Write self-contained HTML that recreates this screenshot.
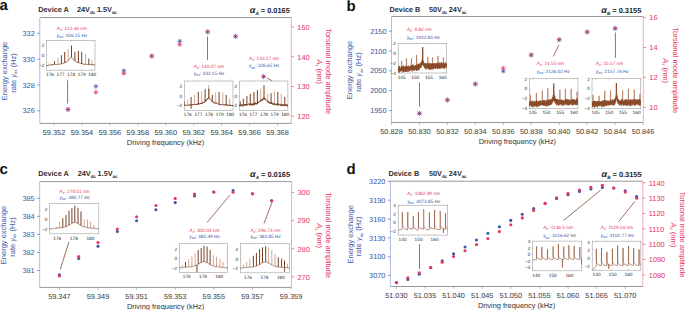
<!DOCTYPE html>
<html><head><meta charset="utf-8"><style>
html,body{margin:0;padding:0;background:#fff;width:685px;height:310px;overflow:hidden}
svg text{font-family:"Liberation Sans",sans-serif;text-rendering:geometricPrecision}
</style></head><body>
<svg width="685" height="310" viewBox="0 0 685 310" style="display:block">
<rect width="685" height="310" fill="#fff"/>
<text x="-0.60" y="10.30" font-size="15" fill="#111" text-anchor="start" font-weight="bold" >a</text>
<text x="38.30" y="12.30" font-size="7.3" fill="#2e2e2e" text-anchor="start" font-weight="bold" >Device A</text>
<text x="77.00" y="12.30" font-size="7.3" fill="#2e2e2e" font-weight="bold">24V<tspan font-size="4.6" dy="1.7" letter-spacing="-0.25">dc</tspan><tspan dy="-1.7"> 1.5V</tspan><tspan font-size="4.6" dy="1.7" letter-spacing="-0.25">ac</tspan></text>
<text x="289.80" y="13.00" font-size="7.4" fill="#222" font-weight="bold" text-anchor="end"><tspan font-size="9" font-style="italic">α</tspan><tspan font-size="4.6" dy="1.6" font-style="italic">A</tspan><tspan dy="-1.6"> = 0.0165</tspan></text>
<line x1="39.80" y1="17.50" x2="291.30" y2="17.50" stroke="#8c8c8c" stroke-width="0.9" />
<line x1="39.80" y1="123.40" x2="291.30" y2="123.40" stroke="#8c8c8c" stroke-width="0.9" />
<line x1="39.80" y1="17.50" x2="39.80" y2="123.40" stroke="#a9b6dc" stroke-width="0.9" />
<line x1="291.30" y1="17.50" x2="291.30" y2="123.40" stroke="#eea6ba" stroke-width="0.9" />
<line x1="54.00" y1="123.40" x2="54.00" y2="125.70" stroke="#8c8c8c" stroke-width="0.6" />
<text x="54.00" y="135.00" font-size="7.35" fill="#3a3a3a" text-anchor="middle" font-weight="normal" >59.352</text>
<line x1="81.94" y1="123.40" x2="81.94" y2="125.70" stroke="#8c8c8c" stroke-width="0.6" />
<text x="81.94" y="135.00" font-size="7.35" fill="#3a3a3a" text-anchor="middle" font-weight="normal" >59.354</text>
<line x1="109.87" y1="123.40" x2="109.87" y2="125.70" stroke="#8c8c8c" stroke-width="0.6" />
<text x="109.87" y="135.00" font-size="7.35" fill="#3a3a3a" text-anchor="middle" font-weight="normal" >59.356</text>
<line x1="137.81" y1="123.40" x2="137.81" y2="125.70" stroke="#8c8c8c" stroke-width="0.6" />
<text x="137.81" y="135.00" font-size="7.35" fill="#3a3a3a" text-anchor="middle" font-weight="normal" >59.358</text>
<line x1="165.75" y1="123.40" x2="165.75" y2="125.70" stroke="#8c8c8c" stroke-width="0.6" />
<text x="165.75" y="135.00" font-size="7.35" fill="#3a3a3a" text-anchor="middle" font-weight="normal" >59.360</text>
<line x1="193.69" y1="123.40" x2="193.69" y2="125.70" stroke="#8c8c8c" stroke-width="0.6" />
<text x="193.69" y="135.00" font-size="7.35" fill="#3a3a3a" text-anchor="middle" font-weight="normal" >59.362</text>
<line x1="221.63" y1="123.40" x2="221.63" y2="125.70" stroke="#8c8c8c" stroke-width="0.6" />
<text x="221.63" y="135.00" font-size="7.35" fill="#3a3a3a" text-anchor="middle" font-weight="normal" >59.364</text>
<line x1="249.56" y1="123.40" x2="249.56" y2="125.70" stroke="#8c8c8c" stroke-width="0.6" />
<text x="249.56" y="135.00" font-size="7.35" fill="#3a3a3a" text-anchor="middle" font-weight="normal" >59.366</text>
<line x1="277.50" y1="123.40" x2="277.50" y2="125.70" stroke="#8c8c8c" stroke-width="0.6" />
<text x="277.50" y="135.00" font-size="7.35" fill="#3a3a3a" text-anchor="middle" font-weight="normal" >59.368</text>
<line x1="37.20" y1="110.80" x2="39.80" y2="110.80" stroke="#3b58a8" stroke-width="0.6" />
<text x="34.80" y="113.40" font-size="7.35" fill="#3b58a8" text-anchor="end" font-weight="normal" >326</text>
<line x1="37.20" y1="84.96" x2="39.80" y2="84.96" stroke="#3b58a8" stroke-width="0.6" />
<text x="34.80" y="87.56" font-size="7.35" fill="#3b58a8" text-anchor="end" font-weight="normal" >328</text>
<line x1="37.20" y1="59.12" x2="39.80" y2="59.12" stroke="#3b58a8" stroke-width="0.6" />
<text x="34.80" y="61.72" font-size="7.35" fill="#3b58a8" text-anchor="end" font-weight="normal" >330</text>
<line x1="37.20" y1="33.28" x2="39.80" y2="33.28" stroke="#3b58a8" stroke-width="0.6" />
<text x="34.80" y="35.88" font-size="7.35" fill="#3b58a8" text-anchor="end" font-weight="normal" >332</text>
<line x1="291.30" y1="116.20" x2="293.90" y2="116.20" stroke="#e63462" stroke-width="0.6" />
<text x="297.30" y="119.10" font-size="7.35" fill="#e63462" text-anchor="start" font-weight="normal" >120</text>
<line x1="291.30" y1="86.47" x2="293.90" y2="86.47" stroke="#e63462" stroke-width="0.6" />
<text x="297.30" y="89.37" font-size="7.35" fill="#e63462" text-anchor="start" font-weight="normal" >130</text>
<line x1="291.30" y1="56.74" x2="293.90" y2="56.74" stroke="#e63462" stroke-width="0.6" />
<text x="297.30" y="59.64" font-size="7.35" fill="#e63462" text-anchor="start" font-weight="normal" >140</text>
<line x1="291.30" y1="27.01" x2="293.90" y2="27.01" stroke="#e63462" stroke-width="0.6" />
<text x="297.30" y="29.91" font-size="7.35" fill="#e63462" text-anchor="start" font-weight="normal" >150</text>
<text x="165.55" y="145.10" font-size="7.42" fill="#333" text-anchor="middle" font-weight="normal" >Driving frequency (kHz)</text>
<text transform="translate(7.20,70.95) rotate(-90)" font-size="7.5" fill="#3b58a8" text-anchor="middle">Energy exchange</text>
<text transform="translate(15.70,72.95) rotate(-90)" font-size="7.5" fill="#3b58a8" text-anchor="middle">rate <tspan font-style="italic">γ</tspan><tspan font-size="4.3" dy="1.2">ex</tspan><tspan dy="-1.2"> (Hz)</tspan></text>
<text transform="translate(326.40,71.15) rotate(90)" font-size="7.55" fill="#e63462" text-anchor="middle">Torsional mode amplitude</text>
<text transform="translate(317.00,71.55) rotate(90)" font-size="7.55" fill="#e63462" text-anchor="middle"><tspan font-style="italic">A</tspan><tspan font-size="4.3" dy="1.2">z</tspan><tspan dy="-1.2"> (nm)</tspan></text>
<rect x="46.50" y="40.40" width="48.50" height="29.80" fill="#fff" stroke="#a0a0a0" stroke-width="0.6"/>
<line x1="49.99" y1="70.20" x2="49.99" y2="69.20" stroke="#999" stroke-width="0.4" />
<line x1="49.99" y1="40.40" x2="49.99" y2="41.40" stroke="#999" stroke-width="0.4" />
<text x="49.99" y="75.90" font-size="4.75" fill="#2a2a2a" text-anchor="middle" font-weight="normal" >176</text>
<line x1="60.55" y1="70.20" x2="60.55" y2="69.20" stroke="#999" stroke-width="0.4" />
<line x1="60.55" y1="40.40" x2="60.55" y2="41.40" stroke="#999" stroke-width="0.4" />
<text x="60.55" y="75.90" font-size="4.75" fill="#2a2a2a" text-anchor="middle" font-weight="normal" >177</text>
<line x1="71.12" y1="70.20" x2="71.12" y2="69.20" stroke="#999" stroke-width="0.4" />
<line x1="71.12" y1="40.40" x2="71.12" y2="41.40" stroke="#999" stroke-width="0.4" />
<text x="71.12" y="75.90" font-size="4.75" fill="#2a2a2a" text-anchor="middle" font-weight="normal" >178</text>
<line x1="81.69" y1="70.20" x2="81.69" y2="69.20" stroke="#999" stroke-width="0.4" />
<line x1="81.69" y1="40.40" x2="81.69" y2="41.40" stroke="#999" stroke-width="0.4" />
<text x="81.69" y="75.90" font-size="4.75" fill="#2a2a2a" text-anchor="middle" font-weight="normal" >179</text>
<line x1="92.25" y1="70.20" x2="92.25" y2="69.20" stroke="#999" stroke-width="0.4" />
<line x1="92.25" y1="40.40" x2="92.25" y2="41.40" stroke="#999" stroke-width="0.4" />
<text x="92.25" y="75.90" font-size="4.75" fill="#2a2a2a" text-anchor="middle" font-weight="normal" >180</text>
<line x1="46.50" y1="45.61" x2="47.50" y2="45.61" stroke="#999" stroke-width="0.4" />
<line x1="95.00" y1="45.61" x2="94.00" y2="45.61" stroke="#999" stroke-width="0.4" />
<text x="44.30" y="47.26" font-size="4.75" fill="#2a2a2a" text-anchor="end" font-weight="normal" >2</text>
<line x1="46.50" y1="55.45" x2="47.50" y2="55.45" stroke="#999" stroke-width="0.4" />
<line x1="95.00" y1="55.45" x2="94.00" y2="55.45" stroke="#999" stroke-width="0.4" />
<text x="44.30" y="57.10" font-size="4.75" fill="#2a2a2a" text-anchor="end" font-weight="normal" >0</text>
<line x1="46.50" y1="65.28" x2="47.50" y2="65.28" stroke="#999" stroke-width="0.4" />
<line x1="95.00" y1="65.28" x2="94.00" y2="65.28" stroke="#999" stroke-width="0.4" />
<text x="44.30" y="66.93" font-size="4.75" fill="#2a2a2a" text-anchor="end" font-weight="normal" >−2</text>
<svg x="46.50" y="40.40" width="48.50" height="29.80" viewBox="46.50 40.40 48.50 29.80" overflow="hidden">
<path d="M57.9 64.3 57.9 57.9" stroke="#c69278" stroke-width="0.8" fill="none" stroke-linejoin="round"/>
<path d="M68.2 60.7 68.2 49.3" stroke="#c69278" stroke-width="0.8" fill="none" stroke-linejoin="round"/>
<path d="M85.5 64.3 85.5 54.0" stroke="#c69278" stroke-width="0.8" fill="none" stroke-linejoin="round"/>
<path d="M92.0 64.9 92.0 60.4" stroke="#c69278" stroke-width="0.8" fill="none" stroke-linejoin="round"/>
<path d="M44.7 65.5 44.9 65.0 45.1 65.1 45.4 65.5 45.6 65.3 45.8 65.3 46.0 65.2 46.2 65.1 46.4 65.5 46.6 65.6 46.9 65.0 47.1 65.3 47.3 65.0 47.5 65.5 47.7 65.2 47.9 65.0 48.2 65.3 48.4 64.8 48.6 64.8 48.8 65.4 49.0 65.4 49.2 65.0 49.4 64.7 49.7 65.1 49.9 65.2 50.1 65.0 50.3 65.2 50.5 65.1 50.7 64.9 51.0 64.9 51.2 65.0 51.4 65.0 51.6 65.0 51.8 64.8 52.0 64.9 52.3 65.1 52.5 64.5 52.7 64.7 52.9 64.6 53.1 64.9 53.3 64.3 53.5 64.4 53.8 64.9 54.0 64.7 54.2 64.4 54.4 64.4 54.6 64.2 54.8 64.6 55.1 64.3 55.3 64.4 55.5 64.6 55.7 64.4 55.9 64.2 56.1 64.2 56.4 64.4 56.6 64.3 56.8 64.7 57.0 64.5 57.2 64.1 57.4 64.4 57.6 64.5 57.9 64.2 58.1 64.1 58.3 64.1 58.5 64.3 58.7 64.2 58.9 64.2 59.2 64.0 59.4 64.1 59.6 64.2 59.8 64.1 60.0 64.4 60.2 64.4 60.5 63.9 60.7 63.7 60.9 63.9 61.1 64.0 61.3 64.1 61.5 63.8 61.7 63.4 62.0 63.5 62.2 63.6 62.4 63.3 62.6 63.6 62.8 63.3 63.0 63.0 63.3 63.2 63.5 63.2 63.7 63.2 63.9 63.0 64.1 62.6 64.3 63.2 64.6 62.6 64.8 62.5 65.0 62.4 65.2 62.4 65.4 62.3 65.6 62.4 65.8 62.3 66.1 62.3 66.3 62.5 66.5 61.8 66.7 62.0 66.9 62.1 67.1 61.7 67.4 61.5 67.6 61.3 67.8 61.1 68.0 60.8 68.2 60.5 68.4 60.3 68.6 60.2 68.9 60.3 69.1 60.0 69.3 59.8 69.5 59.3 69.7 58.9 69.9 58.7 70.2 58.5 70.4 58.3 70.6 58.5 70.8 57.9 71.0 57.8 71.2 58.0 71.5 57.8 71.7 57.9 71.9 57.6 72.1 58.1 72.3 58.4 72.5 58.3 72.7 58.7 73.0 59.1 73.2 59.2 73.4 59.2 73.6 59.6 73.8 59.8 74.0 59.7 74.3 60.1 74.5 60.4 74.7 60.5 74.9 61.0 75.1 60.9 75.3 61.1 75.6 61.5 75.8 61.8 76.0 61.4 76.2 61.9 76.4 62.2 76.6 62.0 76.8 62.0 77.1 62.6 77.3 62.7 77.5 62.7 77.7 62.3 77.9 62.8 78.1 62.5 78.4 62.6 78.6 62.7 78.8 63.0 79.0 62.6 79.2 62.8 79.4 63.1 79.7 63.3 79.9 63.1 80.1 63.4 80.3 63.3 80.5 63.6 80.7 63.4 80.9 63.9 81.2 63.8 81.4 63.4 81.6 63.6 81.8 64.0 82.0 63.7 82.2 64.1 82.5 63.7 82.7 63.9 82.9 64.1 83.1 64.2 83.3 64.4 83.5 63.9 83.8 64.5 84.0 63.9 84.2 63.9 84.4 64.1 84.6 64.4 84.8 64.0 85.0 63.9 85.3 64.1 85.5 64.3 85.7 64.4 85.9 64.4 86.1 64.5 86.3 64.2 86.6 64.4 86.8 64.6 87.0 64.7 87.2 64.3 87.4 64.6 87.6 64.5 87.9 64.6 88.1 64.3 88.3 64.3 88.5 64.9 88.7 64.8 88.9 64.7 89.1 64.3 89.4 64.4 89.6 64.8 89.8 64.9 90.0 64.6 90.2 64.5 90.4 64.4 90.7 64.8 90.9 64.5 91.1 64.6 91.3 64.8 91.5 64.5 91.7 65.0 91.9 64.7 92.2 65.2 92.4 65.1 92.6 64.6 92.8 65.1 93.0 64.8 93.2 64.9 93.5 64.7 93.7 65.1 93.9 65.1 94.1 65.2 94.3 64.8 94.5 65.0 94.8 64.8 95.0 64.8 95.2 65.4 95.4 65.1 95.6 65.4 95.8 65.5 96.0 65.5 96.3 65.0 96.5 65.0" stroke="#6e3416" stroke-width="0.55" fill="none" stroke-linejoin="round"/>
<path d="M51.5 64.8 51.5 64.1" stroke="#6e3416" stroke-width="0.95" fill="none" stroke-linejoin="round"/>
<path d="M54.5 64.6 54.5 61.1" stroke="#6e3416" stroke-width="0.95" fill="none" stroke-linejoin="round"/>
<path d="M61.4 63.8 61.4 55.2" stroke="#6e3416" stroke-width="0.95" fill="none" stroke-linejoin="round"/>
<path d="M64.7 62.7 64.7 52.0" stroke="#6e3416" stroke-width="0.95" fill="none" stroke-linejoin="round"/>
<path d="M71.5 57.4 71.5 45.6" stroke="#6e3416" stroke-width="0.95" fill="none" stroke-linejoin="round"/>
<path d="M74.9 60.7 74.9 52.0" stroke="#6e3416" stroke-width="0.95" fill="none" stroke-linejoin="round"/>
<path d="M78.4 62.7 78.4 51.0" stroke="#6e3416" stroke-width="0.95" fill="none" stroke-linejoin="round"/>
<path d="M81.7 63.8 81.7 51.8" stroke="#6e3416" stroke-width="0.95" fill="none" stroke-linejoin="round"/>
<path d="M88.8 64.6 88.8 58.6" stroke="#6e3416" stroke-width="0.95" fill="none" stroke-linejoin="round"/>
</svg>
<rect x="184.30" y="81.00" width="48.70" height="29.50" fill="#fff" stroke="#a0a0a0" stroke-width="0.6"/>
<line x1="187.80" y1="110.50" x2="187.80" y2="109.50" stroke="#999" stroke-width="0.4" />
<line x1="187.80" y1="81.00" x2="187.80" y2="82.00" stroke="#999" stroke-width="0.4" />
<text x="187.80" y="116.20" font-size="4.75" fill="#2a2a2a" text-anchor="middle" font-weight="normal" >176</text>
<line x1="198.41" y1="110.50" x2="198.41" y2="109.50" stroke="#999" stroke-width="0.4" />
<line x1="198.41" y1="81.00" x2="198.41" y2="82.00" stroke="#999" stroke-width="0.4" />
<text x="198.41" y="116.20" font-size="4.75" fill="#2a2a2a" text-anchor="middle" font-weight="normal" >177</text>
<line x1="209.02" y1="110.50" x2="209.02" y2="109.50" stroke="#999" stroke-width="0.4" />
<line x1="209.02" y1="81.00" x2="209.02" y2="82.00" stroke="#999" stroke-width="0.4" />
<text x="209.02" y="116.20" font-size="4.75" fill="#2a2a2a" text-anchor="middle" font-weight="normal" >178</text>
<line x1="219.63" y1="110.50" x2="219.63" y2="109.50" stroke="#999" stroke-width="0.4" />
<line x1="219.63" y1="81.00" x2="219.63" y2="82.00" stroke="#999" stroke-width="0.4" />
<text x="219.63" y="116.20" font-size="4.75" fill="#2a2a2a" text-anchor="middle" font-weight="normal" >179</text>
<line x1="230.24" y1="110.50" x2="230.24" y2="109.50" stroke="#999" stroke-width="0.4" />
<line x1="230.24" y1="81.00" x2="230.24" y2="82.00" stroke="#999" stroke-width="0.4" />
<text x="230.24" y="116.20" font-size="4.75" fill="#2a2a2a" text-anchor="middle" font-weight="normal" >180</text>
<line x1="184.30" y1="86.16" x2="185.30" y2="86.16" stroke="#999" stroke-width="0.4" />
<line x1="233.00" y1="86.16" x2="232.00" y2="86.16" stroke="#999" stroke-width="0.4" />
<text x="182.10" y="87.81" font-size="4.75" fill="#2a2a2a" text-anchor="end" font-weight="normal" >2</text>
<line x1="184.30" y1="95.90" x2="185.30" y2="95.90" stroke="#999" stroke-width="0.4" />
<line x1="233.00" y1="95.90" x2="232.00" y2="95.90" stroke="#999" stroke-width="0.4" />
<text x="182.10" y="97.55" font-size="4.75" fill="#2a2a2a" text-anchor="end" font-weight="normal" >0</text>
<line x1="184.30" y1="105.63" x2="185.30" y2="105.63" stroke="#999" stroke-width="0.4" />
<line x1="233.00" y1="105.63" x2="232.00" y2="105.63" stroke="#999" stroke-width="0.4" />
<text x="182.10" y="107.28" font-size="4.75" fill="#2a2a2a" text-anchor="end" font-weight="normal" >−2</text>
<svg x="184.30" y="81.00" width="48.70" height="29.50" viewBox="184.30 81.00 48.70 29.50" overflow="hidden">
<path d="M187.7 105.2 187.7 99.5" stroke="#c69278" stroke-width="0.8" fill="none" stroke-linejoin="round"/>
<path d="M194.6 104.7 194.6 94.9" stroke="#c69278" stroke-width="0.8" fill="none" stroke-linejoin="round"/>
<path d="M201.7 103.1 201.7 91.0" stroke="#c69278" stroke-width="0.8" fill="none" stroke-linejoin="round"/>
<path d="M208.7 97.8 208.7 85.2" stroke="#c69278" stroke-width="0.8" fill="none" stroke-linejoin="round"/>
<path d="M215.7 103.1 215.7 92.0" stroke="#c69278" stroke-width="0.8" fill="none" stroke-linejoin="round"/>
<path d="M222.8 104.7 222.8 92.5" stroke="#c69278" stroke-width="0.8" fill="none" stroke-linejoin="round"/>
<path d="M229.6 105.2 229.6 98.3" stroke="#c69278" stroke-width="0.8" fill="none" stroke-linejoin="round"/>
<path d="M182.5 105.0 182.7 105.0 182.9 106.3 183.1 106.2 183.4 105.1 183.6 105.3 183.8 105.3 184.0 105.8 184.2 105.4 184.4 105.4 184.7 105.4 184.9 106.0 185.1 105.6 185.3 105.6 185.5 105.1 185.7 104.7 186.0 104.7 186.2 105.3 186.4 105.4 186.6 105.7 186.8 106.0 187.0 106.0 187.3 105.3 187.5 105.5 187.7 105.4 187.9 104.7 188.1 105.2 188.3 105.1 188.6 105.6 188.8 105.9 189.0 105.4 189.2 105.6 189.4 105.1 189.6 104.4 189.9 104.8 190.1 105.5 190.3 104.5 190.5 104.6 190.7 104.6 190.9 104.4 191.2 104.6 191.4 104.5 191.6 105.1 191.8 104.2 192.0 104.2 192.2 105.4 192.5 104.5 192.7 104.5 192.9 104.9 193.1 104.7 193.3 104.8 193.5 104.1 193.8 104.7 194.0 104.2 194.2 104.9 194.4 104.1 194.6 104.1 194.8 104.7 195.1 104.5 195.3 104.0 195.5 104.3 195.7 104.6 195.9 104.9 196.1 104.8 196.4 104.2 196.6 105.0 196.8 103.9 197.0 104.8 197.2 103.8 197.4 104.7 197.7 103.7 197.9 104.1 198.1 104.3 198.3 104.3 198.5 104.0 198.7 104.0 199.0 104.3 199.2 104.4 199.4 103.9 199.6 103.2 199.8 103.6 200.0 104.3 200.3 103.2 200.5 103.2 200.7 102.9 200.9 103.9 201.1 103.0 201.3 103.9 201.6 103.0 201.8 103.4 202.0 103.4 202.2 102.4 202.4 103.5 202.6 102.8 202.9 102.2 203.1 103.0 203.3 103.0 203.5 102.0 203.7 102.6 203.9 102.1 204.2 102.8 204.4 102.2 204.6 102.2 204.8 101.3 205.0 101.9 205.2 100.5 205.5 101.6 205.7 100.4 205.9 101.2 206.1 100.7 206.3 99.6 206.5 100.4 206.8 100.2 207.0 99.2 207.2 99.4 207.4 99.7 207.6 98.2 207.8 99.2 208.1 99.1 208.3 98.5 208.5 97.9 208.7 97.5 208.9 98.6 209.1 98.5 209.4 99.2 209.6 98.7 209.8 98.5 210.0 98.7 210.2 98.7 210.4 99.1 210.7 99.2 210.9 99.6 211.1 100.2 211.3 100.7 211.5 100.3 211.7 101.0 212.0 101.5 212.2 101.2 212.4 100.8 212.6 102.1 212.8 101.6 213.0 102.1 213.3 102.1 213.5 102.9 213.7 101.8 213.9 102.9 214.1 102.4 214.3 102.8 214.6 103.4 214.8 102.7 215.0 103.4 215.2 103.6 215.4 103.7 215.6 103.6 215.9 103.8 216.1 103.1 216.3 103.3 216.5 102.7 216.7 102.8 216.9 102.8 217.2 104.0 217.4 103.8 217.6 104.1 217.8 103.7 218.0 103.7 218.2 103.6 218.5 103.8 218.7 104.5 218.9 104.3 219.1 104.2 219.3 105.1 219.5 105.1 219.8 104.5 220.0 105.0 220.2 104.1 220.4 104.8 220.6 105.1 220.8 105.0 221.1 104.9 221.3 104.9 221.5 104.5 221.7 104.6 221.9 104.9 222.1 104.4 222.4 105.0 222.6 104.0 222.8 104.0 223.0 104.3 223.2 104.8 223.4 104.7 223.7 104.6 223.9 105.4 224.1 104.9 224.3 104.7 224.5 105.3 224.7 105.4 225.0 104.4 225.2 105.1 225.4 104.8 225.6 104.3 225.8 104.8 226.0 105.2 226.3 104.2 226.5 105.2 226.7 105.7 226.9 104.7 227.1 105.6 227.3 105.3 227.6 104.6 227.8 104.8 228.0 105.8 228.2 105.2 228.4 105.3 228.6 105.2 228.9 105.6 229.1 105.1 229.3 105.8 229.5 105.5 229.7 105.4 229.9 104.6 230.2 105.9 230.4 104.9 230.6 105.8 230.8 105.2 231.0 105.5 231.2 105.4 231.5 105.0 231.7 105.6 231.9 106.0 232.1 106.0 232.3 106.1 232.5 105.0 232.8 105.3 233.0 104.9 233.2 105.3 233.4 106.3 233.6 105.4 233.8 105.2 234.1 105.3 234.3 105.6 234.5 105.8" stroke="#6e3416" stroke-width="0.6" fill="none" stroke-linejoin="round"/>
<path d="M184.3 105.5 184.3 101.5" stroke="#6e3416" stroke-width="0.95" fill="none" stroke-linejoin="round"/>
<path d="M191.1 105.0 191.1 96.9" stroke="#6e3416" stroke-width="0.95" fill="none" stroke-linejoin="round"/>
<path d="M198.3 104.3 198.3 92.0" stroke="#6e3416" stroke-width="0.95" fill="none" stroke-linejoin="round"/>
<path d="M205.1 101.3 205.1 88.8" stroke="#6e3416" stroke-width="0.95" fill="none" stroke-linejoin="round"/>
<path d="M208.9 98.0 208.9 88.6" stroke="#6e3416" stroke-width="0.95" fill="none" stroke-linejoin="round"/>
<path d="M212.3 101.3 212.3 94.9" stroke="#6e3416" stroke-width="0.95" fill="none" stroke-linejoin="round"/>
<path d="M219.1 104.3 219.1 92.0" stroke="#6e3416" stroke-width="0.95" fill="none" stroke-linejoin="round"/>
<path d="M226.2 104.9 226.2 94.9" stroke="#6e3416" stroke-width="0.95" fill="none" stroke-linejoin="round"/>
<path d="M190.9 105.0 191.1 108.6 191.4 105.0" stroke="#6e3416" stroke-width="0.55" fill="none" stroke-linejoin="round"/>
</svg>
<rect x="239.40" y="81.00" width="48.50" height="29.50" fill="#fff" stroke="#a0a0a0" stroke-width="0.6"/>
<line x1="242.89" y1="110.50" x2="242.89" y2="109.50" stroke="#999" stroke-width="0.4" />
<line x1="242.89" y1="81.00" x2="242.89" y2="82.00" stroke="#999" stroke-width="0.4" />
<text x="242.89" y="116.20" font-size="4.75" fill="#2a2a2a" text-anchor="middle" font-weight="normal" >176</text>
<line x1="253.45" y1="110.50" x2="253.45" y2="109.50" stroke="#999" stroke-width="0.4" />
<line x1="253.45" y1="81.00" x2="253.45" y2="82.00" stroke="#999" stroke-width="0.4" />
<text x="253.45" y="116.20" font-size="4.75" fill="#2a2a2a" text-anchor="middle" font-weight="normal" >177</text>
<line x1="264.02" y1="110.50" x2="264.02" y2="109.50" stroke="#999" stroke-width="0.4" />
<line x1="264.02" y1="81.00" x2="264.02" y2="82.00" stroke="#999" stroke-width="0.4" />
<text x="264.02" y="116.20" font-size="4.75" fill="#2a2a2a" text-anchor="middle" font-weight="normal" >178</text>
<line x1="274.59" y1="110.50" x2="274.59" y2="109.50" stroke="#999" stroke-width="0.4" />
<line x1="274.59" y1="81.00" x2="274.59" y2="82.00" stroke="#999" stroke-width="0.4" />
<text x="274.59" y="116.20" font-size="4.75" fill="#2a2a2a" text-anchor="middle" font-weight="normal" >179</text>
<line x1="285.15" y1="110.50" x2="285.15" y2="109.50" stroke="#999" stroke-width="0.4" />
<line x1="285.15" y1="81.00" x2="285.15" y2="82.00" stroke="#999" stroke-width="0.4" />
<text x="285.15" y="116.20" font-size="4.75" fill="#2a2a2a" text-anchor="middle" font-weight="normal" >180</text>
<line x1="239.40" y1="86.16" x2="240.40" y2="86.16" stroke="#999" stroke-width="0.4" />
<line x1="287.90" y1="86.16" x2="286.90" y2="86.16" stroke="#999" stroke-width="0.4" />
<text x="237.20" y="87.81" font-size="4.75" fill="#2a2a2a" text-anchor="end" font-weight="normal" >2</text>
<line x1="239.40" y1="95.90" x2="240.40" y2="95.90" stroke="#999" stroke-width="0.4" />
<line x1="287.90" y1="95.90" x2="286.90" y2="95.90" stroke="#999" stroke-width="0.4" />
<text x="237.20" y="97.55" font-size="4.75" fill="#2a2a2a" text-anchor="end" font-weight="normal" >0</text>
<line x1="239.40" y1="105.63" x2="240.40" y2="105.63" stroke="#999" stroke-width="0.4" />
<line x1="287.90" y1="105.63" x2="286.90" y2="105.63" stroke="#999" stroke-width="0.4" />
<text x="237.20" y="107.28" font-size="4.75" fill="#2a2a2a" text-anchor="end" font-weight="normal" >−2</text>
<svg x="239.40" y="81.00" width="48.50" height="29.50" viewBox="239.40 81.00 48.50 29.50" overflow="hidden">
<path d="M260.7 101.0 260.7 88.6" stroke="#c69278" stroke-width="0.8" fill="none" stroke-linejoin="round"/>
<path d="M267.7 101.4 267.7 93.9" stroke="#c69278" stroke-width="0.8" fill="none" stroke-linejoin="round"/>
<path d="M274.4 104.3 274.4 91.3" stroke="#c69278" stroke-width="0.8" fill="none" stroke-linejoin="round"/>
<path d="M281.3 104.9 281.3 93.9" stroke="#c69278" stroke-width="0.8" fill="none" stroke-linejoin="round"/>
<path d="M237.6 106.2 237.8 105.5 238.0 105.9 238.3 105.4 238.5 105.4 238.7 106.6 238.9 106.7 239.1 104.9 239.3 106.1 239.5 106.1 239.8 104.5 240.0 105.6 240.2 104.8 240.4 105.5 240.6 105.2 240.8 106.2 241.1 105.1 241.3 104.6 241.5 105.3 241.7 104.9 241.9 105.0 242.1 106.3 242.3 104.8 242.6 105.1 242.8 105.7 243.0 106.3 243.2 104.5 243.4 105.3 243.6 104.7 243.9 104.4 244.1 104.7 244.3 104.2 244.5 105.4 244.7 104.5 244.9 105.2 245.2 104.1 245.4 104.2 245.6 105.9 245.8 105.8 246.0 105.6 246.2 104.0 246.4 105.1 246.7 104.7 246.9 105.3 247.1 104.9 247.3 105.1 247.5 105.2 247.7 104.7 248.0 104.6 248.2 103.9 248.4 104.4 248.6 103.9 248.8 104.0 249.0 103.7 249.3 104.4 249.5 105.4 249.7 103.9 249.9 103.7 250.1 103.8 250.3 104.5 250.5 104.1 250.8 105.2 251.0 103.9 251.2 104.4 251.4 105.0 251.6 105.4 251.8 103.7 252.1 103.4 252.3 105.3 252.5 103.8 252.7 104.6 252.9 105.1 253.1 104.8 253.4 103.8 253.6 103.5 253.8 105.2 254.0 103.9 254.2 105.1 254.4 103.6 254.6 104.3 254.9 103.1 255.1 102.8 255.3 103.7 255.5 102.6 255.7 104.0 255.9 104.4 256.2 103.2 256.4 104.4 256.6 103.9 256.8 103.4 257.0 102.9 257.2 103.8 257.5 104.0 257.7 102.1 257.9 103.2 258.1 101.8 258.3 101.9 258.5 102.9 258.7 102.6 259.0 102.4 259.2 102.1 259.4 102.1 259.6 101.9 259.8 101.6 260.0 100.7 260.3 101.4 260.5 101.4 260.7 100.6 260.9 101.4 261.1 101.0 261.3 99.4 261.5 100.2 261.8 99.9 262.0 100.8 262.2 99.8 262.4 99.2 262.6 100.2 262.8 98.7 263.1 98.5 263.3 99.5 263.5 98.1 263.7 98.2 263.9 97.6 264.1 98.3 264.4 97.7 264.6 97.9 264.8 99.6 265.0 99.7 265.2 98.6 265.4 98.2 265.6 99.9 265.9 99.7 266.1 99.6 266.3 100.4 266.5 100.5 266.7 100.8 266.9 100.9 267.2 100.6 267.4 101.5 267.6 101.5 267.8 100.9 268.0 102.7 268.2 101.7 268.5 101.6 268.7 102.7 268.9 103.0 269.1 101.8 269.3 103.1 269.5 103.3 269.7 102.8 270.0 102.4 270.2 103.7 270.4 103.3 270.6 103.4 270.8 102.4 271.0 103.3 271.3 102.5 271.5 104.0 271.7 103.7 271.9 103.1 272.1 102.7 272.3 103.7 272.6 104.3 272.8 104.5 273.0 103.7 273.2 104.5 273.4 103.3 273.6 103.3 273.8 104.8 274.1 104.7 274.3 103.6 274.5 104.0 274.7 103.7 274.9 104.7 275.1 105.2 275.4 104.9 275.6 103.8 275.8 104.9 276.0 104.8 276.2 104.7 276.4 104.7 276.7 104.7 276.9 103.7 277.1 105.3 277.3 105.6 277.5 103.7 277.7 103.8 277.9 103.6 278.2 104.8 278.4 103.7 278.6 103.8 278.8 105.3 279.0 104.2 279.2 104.0 279.5 104.4 279.7 104.8 279.9 105.3 280.1 105.2 280.3 105.4 280.5 105.8 280.8 104.7 281.0 105.4 281.2 104.3 281.4 105.9 281.6 104.1 281.8 104.6 282.0 104.1 282.3 104.2 282.5 104.2 282.7 104.9 282.9 106.1 283.1 104.6 283.3 105.8 283.6 105.6 283.8 104.8 284.0 105.1 284.2 105.4 284.4 104.3 284.6 105.0 284.8 105.6 285.1 105.8 285.3 104.5 285.5 105.3 285.7 104.7 285.9 105.7 286.1 106.0 286.4 105.3 286.6 104.7 286.8 106.1 287.0 104.8 287.2 104.5 287.4 104.8 287.7 104.8 287.9 106.6 288.1 105.2 288.3 104.8 288.5 106.5 288.7 106.1 288.9 106.1 289.2 105.6 289.4 105.8" stroke="#6e3416" stroke-width="0.7" fill="none" stroke-linejoin="round"/>
<path d="M240.2 105.5 240.2 101.3" stroke="#6e3416" stroke-width="0.95" fill="none" stroke-linejoin="round"/>
<path d="M243.3 105.2 243.3 98.8" stroke="#6e3416" stroke-width="0.95" fill="none" stroke-linejoin="round"/>
<path d="M246.9 104.9 246.9 96.1" stroke="#6e3416" stroke-width="0.95" fill="none" stroke-linejoin="round"/>
<path d="M250.3 104.6 250.3 93.9" stroke="#6e3416" stroke-width="0.95" fill="none" stroke-linejoin="round"/>
<path d="M254.0 104.2 254.0 92.0" stroke="#6e3416" stroke-width="0.95" fill="none" stroke-linejoin="round"/>
<path d="M257.4 103.0 257.4 90.1" stroke="#6e3416" stroke-width="0.95" fill="none" stroke-linejoin="round"/>
<path d="M264.0 97.8 264.0 85.2" stroke="#6e3416" stroke-width="0.95" fill="none" stroke-linejoin="round"/>
<path d="M271.1 103.2 271.1 93.2" stroke="#6e3416" stroke-width="0.95" fill="none" stroke-linejoin="round"/>
<path d="M277.8 104.6 277.8 92.0" stroke="#6e3416" stroke-width="0.95" fill="none" stroke-linejoin="round"/>
<path d="M284.8 105.2 284.8 96.9" stroke="#6e3416" stroke-width="0.95" fill="none" stroke-linejoin="round"/>
</svg>
<line x1="67.60" y1="80.30" x2="67.60" y2="103.50" stroke="#8a553d" stroke-width="0.85" />
<line x1="207.50" y1="36.50" x2="207.50" y2="60.00" stroke="#8a553d" stroke-width="0.85" />
<line x1="267.00" y1="78.20" x2="271.90" y2="80.60" stroke="#8a553d" stroke-width="0.85" />
<path d="M65.52 109.50H70.42M67.97 107.05V111.95M66.20 107.74L69.73 111.26M66.20 111.26L69.73 107.74" stroke="#3b58a8" stroke-width="0.7" fill="none" stroke-opacity="1"/>
<path d="M65.62 109.20H70.32M67.97 106.85V111.55M66.28 107.51L69.66 110.89M66.28 110.89L69.66 107.51" stroke="#e63462" stroke-width="0.7" fill="none" stroke-opacity="0.72"/>
<circle cx="67.97" cy="109.20" r="0.6" fill="#e63462"/>
<path d="M93.56 86.40H98.26M95.91 84.05V88.75M94.21 84.71L97.60 88.09M94.21 88.09L97.60 84.71" stroke="#3b58a8" stroke-width="0.7" fill="none" stroke-opacity="1"/>
<path d="M93.56 92.30H98.26M95.91 89.95V94.65M94.21 90.61L97.60 93.99M94.21 93.99L97.60 90.61" stroke="#e63462" stroke-width="0.7" fill="none" stroke-opacity="1"/>
<path d="M121.49 70.80H126.19M123.84 68.45V73.15M122.15 69.11L125.54 72.49M122.15 72.49L125.54 69.11" stroke="#3b58a8" stroke-width="0.7" fill="none" stroke-opacity="1"/>
<path d="M121.49 73.50H126.19M123.84 71.15V75.85M122.15 71.81L125.54 75.19M122.15 75.19L125.54 71.81" stroke="#e63462" stroke-width="0.7" fill="none" stroke-opacity="1"/>
<path d="M149.33 56.20H154.23M151.78 53.75V58.65M150.02 54.44L153.55 57.96M150.02 57.96L153.55 54.44" stroke="#3b58a8" stroke-width="0.7" fill="none" stroke-opacity="1"/>
<path d="M149.43 55.90H154.13M151.78 53.55V58.25M150.09 54.21L153.47 57.59M150.09 57.59L153.47 54.21" stroke="#e63462" stroke-width="0.7" fill="none" stroke-opacity="0.72"/>
<circle cx="151.78" cy="55.90" r="0.6" fill="#e63462"/>
<path d="M177.37 41.20H182.07M179.72 38.85V43.55M178.03 39.51L181.41 42.89M178.03 42.89L181.41 39.51" stroke="#3b58a8" stroke-width="0.7" fill="none" stroke-opacity="1"/>
<path d="M177.37 44.60H182.07M179.72 42.25V46.95M178.03 42.91L181.41 46.29M178.03 46.29L181.41 42.91" stroke="#e63462" stroke-width="0.7" fill="none" stroke-opacity="1"/>
<path d="M205.21 32.00H210.11M207.66 29.55V34.45M205.89 30.24L209.42 33.76M205.89 33.76L209.42 30.24" stroke="#3b58a8" stroke-width="0.7" fill="none" stroke-opacity="1"/>
<path d="M205.31 31.70H210.01M207.66 29.35V34.05M205.96 30.01L209.35 33.39M205.96 33.39L209.35 30.01" stroke="#e63462" stroke-width="0.7" fill="none" stroke-opacity="0.72"/>
<circle cx="207.66" cy="31.70" r="0.6" fill="#e63462"/>
<path d="M233.14 36.50H238.04M235.59 34.05V38.95M233.83 34.74L237.36 38.26M233.83 38.26L237.36 34.74" stroke="#3b58a8" stroke-width="0.7" fill="none" stroke-opacity="1"/>
<path d="M233.24 36.20H237.94M235.59 33.85V38.55M233.90 34.51L237.29 37.89M233.90 37.89L237.29 34.51" stroke="#e63462" stroke-width="0.7" fill="none" stroke-opacity="0.72"/>
<circle cx="235.59" cy="36.20" r="0.6" fill="#e63462"/>
<path d="M261.08 76.70H265.98M263.53 74.25V79.15M261.77 74.94L265.30 78.46M261.77 78.46L265.30 74.94" stroke="#3b58a8" stroke-width="0.7" fill="none" stroke-opacity="1"/>
<path d="M261.18 76.40H265.88M263.53 74.05V78.75M261.84 74.71L265.22 78.09M261.84 78.09L265.22 74.71" stroke="#e63462" stroke-width="0.7" fill="none" stroke-opacity="0.72"/>
<circle cx="263.53" cy="76.40" r="0.6" fill="#e63462"/>
<text x="56.80" y="29.50" font-size="4.75" fill="#e63462"><tspan font-style="italic">A</tspan><tspan font-size="3.6" dy="1.0">z</tspan><tspan dy="-1.0">: 122.46 nm</tspan></text>
<text x="56.80" y="36.50" font-size="4.75" fill="#3b58a8"><tspan font-style="italic">γ</tspan><tspan font-size="3.6" dy="1.2">ex</tspan><tspan dy="-1.2">: 326.15 Hz</tspan></text>
<text x="193.80" y="68.20" font-size="4.75" fill="#e63462"><tspan font-style="italic">A</tspan><tspan font-size="3.6" dy="1.0">z</tspan><tspan dy="-1.0">: 140.07 nm</tspan></text>
<text x="193.80" y="75.20" font-size="4.75" fill="#3b58a8"><tspan font-style="italic">γ</tspan><tspan font-size="3.6" dy="1.2">ex</tspan><tspan dy="-1.2">: 332.15 Hz</tspan></text>
<text x="249.00" y="60.30" font-size="4.75" fill="#e63462"><tspan font-style="italic">A</tspan><tspan font-size="3.6" dy="1.0">z</tspan><tspan dy="-1.0">: 133.17 nm</tspan></text>
<text x="249.00" y="67.30" font-size="4.75" fill="#3b58a8"><tspan font-style="italic">γ</tspan><tspan font-size="3.6" dy="1.2">ex</tspan><tspan dy="-1.2">: 326.65 Hz</tspan></text>
<text x="346.60" y="10.60" font-size="15" fill="#111" text-anchor="start" font-weight="bold" >b</text>
<text x="389.50" y="12.30" font-size="7.3" fill="#2e2e2e" text-anchor="start" font-weight="bold" >Device B</text>
<text x="428.90" y="12.30" font-size="7.3" fill="#2e2e2e" font-weight="bold">50V<tspan font-size="4.6" dy="1.7" letter-spacing="-0.25">dc</tspan><tspan dy="-1.7"> 24V</tspan><tspan font-size="4.6" dy="1.7" letter-spacing="-0.25">ac</tspan></text>
<text x="641.30" y="13.00" font-size="7.4" fill="#222" font-weight="bold" text-anchor="end"><tspan font-size="9" font-style="italic">α</tspan><tspan font-size="4.6" dy="1.6" font-style="italic">B</tspan><tspan dy="-1.6"> = 0.3155</tspan></text>
<line x1="391.50" y1="16.50" x2="643.30" y2="16.50" stroke="#8c8c8c" stroke-width="0.9" />
<line x1="391.50" y1="122.50" x2="643.30" y2="122.50" stroke="#8c8c8c" stroke-width="0.9" />
<line x1="391.50" y1="16.50" x2="391.50" y2="122.50" stroke="#a9b6dc" stroke-width="0.9" />
<line x1="643.30" y1="16.50" x2="643.30" y2="122.50" stroke="#eea6ba" stroke-width="0.9" />
<line x1="391.50" y1="122.50" x2="391.50" y2="124.80" stroke="#8c8c8c" stroke-width="0.6" />
<text x="391.50" y="134.10" font-size="7.35" fill="#3a3a3a" text-anchor="middle" font-weight="normal" >50.828</text>
<line x1="419.45" y1="122.50" x2="419.45" y2="124.80" stroke="#8c8c8c" stroke-width="0.6" />
<text x="419.45" y="134.10" font-size="7.35" fill="#3a3a3a" text-anchor="middle" font-weight="normal" >50.830</text>
<line x1="447.40" y1="122.50" x2="447.40" y2="124.80" stroke="#8c8c8c" stroke-width="0.6" />
<text x="447.40" y="134.10" font-size="7.35" fill="#3a3a3a" text-anchor="middle" font-weight="normal" >50.832</text>
<line x1="475.35" y1="122.50" x2="475.35" y2="124.80" stroke="#8c8c8c" stroke-width="0.6" />
<text x="475.35" y="134.10" font-size="7.35" fill="#3a3a3a" text-anchor="middle" font-weight="normal" >50.834</text>
<line x1="503.30" y1="122.50" x2="503.30" y2="124.80" stroke="#8c8c8c" stroke-width="0.6" />
<text x="503.30" y="134.10" font-size="7.35" fill="#3a3a3a" text-anchor="middle" font-weight="normal" >50.836</text>
<line x1="531.25" y1="122.50" x2="531.25" y2="124.80" stroke="#8c8c8c" stroke-width="0.6" />
<text x="531.25" y="134.10" font-size="7.35" fill="#3a3a3a" text-anchor="middle" font-weight="normal" >50.838</text>
<line x1="559.20" y1="122.50" x2="559.20" y2="124.80" stroke="#8c8c8c" stroke-width="0.6" />
<text x="559.20" y="134.10" font-size="7.35" fill="#3a3a3a" text-anchor="middle" font-weight="normal" >50.840</text>
<line x1="587.15" y1="122.50" x2="587.15" y2="124.80" stroke="#8c8c8c" stroke-width="0.6" />
<text x="587.15" y="134.10" font-size="7.35" fill="#3a3a3a" text-anchor="middle" font-weight="normal" >50.842</text>
<line x1="615.10" y1="122.50" x2="615.10" y2="124.80" stroke="#8c8c8c" stroke-width="0.6" />
<text x="615.10" y="134.10" font-size="7.35" fill="#3a3a3a" text-anchor="middle" font-weight="normal" >50.844</text>
<line x1="643.05" y1="122.50" x2="643.05" y2="124.80" stroke="#8c8c8c" stroke-width="0.6" />
<text x="643.05" y="134.10" font-size="7.35" fill="#3a3a3a" text-anchor="middle" font-weight="normal" >50.846</text>
<line x1="388.90" y1="110.60" x2="391.50" y2="110.60" stroke="#3b58a8" stroke-width="0.6" />
<text x="386.50" y="113.20" font-size="7.35" fill="#3b58a8" text-anchor="end" font-weight="normal" >1950</text>
<line x1="388.90" y1="90.73" x2="391.50" y2="90.73" stroke="#3b58a8" stroke-width="0.6" />
<text x="386.50" y="93.33" font-size="7.35" fill="#3b58a8" text-anchor="end" font-weight="normal" >2000</text>
<line x1="388.90" y1="70.86" x2="391.50" y2="70.86" stroke="#3b58a8" stroke-width="0.6" />
<text x="386.50" y="73.46" font-size="7.35" fill="#3b58a8" text-anchor="end" font-weight="normal" >2050</text>
<line x1="388.90" y1="50.99" x2="391.50" y2="50.99" stroke="#3b58a8" stroke-width="0.6" />
<text x="386.50" y="53.59" font-size="7.35" fill="#3b58a8" text-anchor="end" font-weight="normal" >2100</text>
<line x1="388.90" y1="31.12" x2="391.50" y2="31.12" stroke="#3b58a8" stroke-width="0.6" />
<text x="386.50" y="33.72" font-size="7.35" fill="#3b58a8" text-anchor="end" font-weight="normal" >2150</text>
<line x1="643.30" y1="107.40" x2="645.90" y2="107.40" stroke="#e63462" stroke-width="0.6" />
<text x="649.30" y="110.30" font-size="7.35" fill="#e63462" text-anchor="start" font-weight="normal" >10</text>
<line x1="643.30" y1="77.43" x2="645.90" y2="77.43" stroke="#e63462" stroke-width="0.6" />
<text x="649.30" y="80.33" font-size="7.35" fill="#e63462" text-anchor="start" font-weight="normal" >12</text>
<line x1="643.30" y1="47.46" x2="645.90" y2="47.46" stroke="#e63462" stroke-width="0.6" />
<text x="649.30" y="50.36" font-size="7.35" fill="#e63462" text-anchor="start" font-weight="normal" >14</text>
<line x1="643.30" y1="17.49" x2="645.90" y2="17.49" stroke="#e63462" stroke-width="0.6" />
<text x="649.30" y="20.39" font-size="7.35" fill="#e63462" text-anchor="start" font-weight="normal" >16</text>
<text x="517.40" y="144.20" font-size="7.42" fill="#333" text-anchor="middle" font-weight="normal" >Driving frequency (kHz)</text>
<text transform="translate(352.10,70.00) rotate(-90)" font-size="7.5" fill="#3b58a8" text-anchor="middle">Energy exchange</text>
<text transform="translate(361.40,72.00) rotate(-90)" font-size="7.5" fill="#3b58a8" text-anchor="middle">rate <tspan font-style="italic">γ</tspan><tspan font-size="4.3" dy="1.2">ex</tspan><tspan dy="-1.2"> (Hz)</tspan></text>
<text transform="translate(672.60,70.20) rotate(90)" font-size="7.55" fill="#e63462" text-anchor="middle">Torsional mode amplitude</text>
<text transform="translate(663.20,70.60) rotate(90)" font-size="7.55" fill="#e63462" text-anchor="middle"><tspan font-style="italic">A</tspan><tspan font-size="4.3" dy="1.2">z</tspan><tspan dy="-1.2"> (nm)</tspan></text>
<rect x="398.20" y="43.30" width="48.50" height="29.70" fill="#fff" stroke="#a0a0a0" stroke-width="0.6"/>
<line x1="401.62" y1="73.00" x2="401.62" y2="72.00" stroke="#999" stroke-width="0.4" />
<line x1="401.62" y1="43.30" x2="401.62" y2="44.30" stroke="#999" stroke-width="0.4" />
<text x="401.62" y="78.70" font-size="4.75" fill="#2a2a2a" text-anchor="middle" font-weight="normal" >145</text>
<line x1="415.28" y1="73.00" x2="415.28" y2="72.00" stroke="#999" stroke-width="0.4" />
<line x1="415.28" y1="43.30" x2="415.28" y2="44.30" stroke="#999" stroke-width="0.4" />
<text x="415.28" y="78.70" font-size="4.75" fill="#2a2a2a" text-anchor="middle" font-weight="normal" >150</text>
<line x1="428.94" y1="73.00" x2="428.94" y2="72.00" stroke="#999" stroke-width="0.4" />
<line x1="428.94" y1="43.30" x2="428.94" y2="44.30" stroke="#999" stroke-width="0.4" />
<text x="428.94" y="78.70" font-size="4.75" fill="#2a2a2a" text-anchor="middle" font-weight="normal" >155</text>
<line x1="442.60" y1="73.00" x2="442.60" y2="72.00" stroke="#999" stroke-width="0.4" />
<line x1="442.60" y1="43.30" x2="442.60" y2="44.30" stroke="#999" stroke-width="0.4" />
<text x="442.60" y="78.70" font-size="4.75" fill="#2a2a2a" text-anchor="middle" font-weight="normal" >160</text>
<line x1="398.20" y1="43.69" x2="399.20" y2="43.69" stroke="#999" stroke-width="0.4" />
<line x1="446.70" y1="43.69" x2="445.70" y2="43.69" stroke="#999" stroke-width="0.4" />
<text x="396.00" y="45.34" font-size="4.75" fill="#2a2a2a" text-anchor="end" font-weight="normal" >2</text>
<line x1="398.20" y1="53.46" x2="399.20" y2="53.46" stroke="#999" stroke-width="0.4" />
<line x1="446.70" y1="53.46" x2="445.70" y2="53.46" stroke="#999" stroke-width="0.4" />
<text x="396.00" y="55.11" font-size="4.75" fill="#2a2a2a" text-anchor="end" font-weight="normal" >0</text>
<line x1="398.20" y1="63.23" x2="399.20" y2="63.23" stroke="#999" stroke-width="0.4" />
<line x1="446.70" y1="63.23" x2="445.70" y2="63.23" stroke="#999" stroke-width="0.4" />
<text x="396.00" y="64.88" font-size="4.75" fill="#2a2a2a" text-anchor="end" font-weight="normal" >−2</text>
<line x1="398.20" y1="73.00" x2="399.20" y2="73.00" stroke="#999" stroke-width="0.4" />
<line x1="446.70" y1="73.00" x2="445.70" y2="73.00" stroke="#999" stroke-width="0.4" />
<text x="396.00" y="74.65" font-size="4.75" fill="#2a2a2a" text-anchor="end" font-weight="normal" >−4</text>
<svg x="398.20" y="43.30" width="48.50" height="29.70" viewBox="398.20 43.30 48.50 29.70" overflow="hidden">
<path d="M401.3 69.1 401.6 60.8 401.9 69.1" stroke="#b07658" stroke-width="0.7" fill="none" stroke-linejoin="round"/>
<path d="M406.3 68.6 406.5 58.3 406.8 68.6" stroke="#b07658" stroke-width="0.7" fill="none" stroke-linejoin="round"/>
<path d="M411.2 68.2 411.5 58.3 411.7 68.2" stroke="#b07658" stroke-width="0.7" fill="none" stroke-linejoin="round"/>
<path d="M416.4 67.6 416.6 54.9 416.9 67.6" stroke="#b07658" stroke-width="0.7" fill="none" stroke-linejoin="round"/>
<path d="M422.4 61.9 422.7 47.1 422.9 61.9" stroke="#8a4a28" stroke-width="0.7" fill="none" stroke-linejoin="round"/>
<path d="M427.6 66.5 427.8 56.9 428.1 66.5" stroke="#b07658" stroke-width="0.7" fill="none" stroke-linejoin="round"/>
<path d="M432.2 66.3 432.5 57.4 432.8 66.3" stroke="#b07658" stroke-width="0.7" fill="none" stroke-linejoin="round"/>
<path d="M437.7 65.9 438.0 55.9 438.2 65.9" stroke="#b07658" stroke-width="0.7" fill="none" stroke-linejoin="round"/>
<path d="M443.1 65.5 443.4 57.4 443.7 65.5" stroke="#b07658" stroke-width="0.7" fill="none" stroke-linejoin="round"/>
<path d="M396.2 71.7 396.3 67.2 396.5 72.8 396.7 67.4 396.9 71.7 397.1 67.1 397.3 70.9 397.5 67.2 397.7 72.0 397.9 66.5 398.1 70.6 398.3 67.6 398.5 70.6 398.7 66.4 398.9 72.0 399.1 68.2 399.3 72.7 399.5 65.9 399.7 71.8 399.9 66.7 400.1 70.6 400.3 68.1 400.5 71.5 400.7 68.0 400.9 70.6 401.1 67.5 401.3 70.2 401.5 67.0 401.7 71.2 401.9 66.0 402.1 71.3 402.3 66.5 402.5 71.2 402.7 66.4 402.9 71.1 403.1 67.3 403.3 72.4 403.5 65.5 403.7 71.9 403.9 66.2 404.1 70.7 404.3 67.3 404.4 70.6 404.6 67.6 404.8 71.7 405.0 66.8 405.2 71.8 405.4 66.8 405.6 72.0 405.8 65.7 406.0 69.7 406.2 67.1 406.4 71.9 406.6 66.5 406.8 72.0 407.0 66.6 407.2 69.8 407.4 66.0 407.6 71.4 407.8 66.9 408.0 69.7 408.2 66.7 408.4 71.8 408.6 65.6 408.8 69.7 409.0 66.8 409.2 69.7 409.4 67.2 409.6 71.3 409.8 66.9 410.0 70.7 410.2 66.2 410.4 69.8 410.6 65.5 410.8 69.6 411.0 65.7 411.2 69.5 411.4 66.2 411.6 69.7 411.8 66.5 412.0 71.5 412.2 65.2 412.4 69.8 412.5 64.9 412.7 69.6 412.9 66.1 413.1 71.1 413.3 65.4 413.5 69.2 413.7 64.6 413.9 69.5 414.1 66.3 414.3 70.8 414.5 66.0 414.7 69.6 414.9 66.6 415.1 69.0 415.3 65.3 415.5 69.3 415.7 65.3 415.9 69.6 416.1 65.6 416.3 71.0 416.5 65.4 416.7 70.0 416.9 64.4 417.1 69.0 417.3 66.1 417.5 70.6 417.7 64.4 417.9 69.0 418.1 65.8 418.3 70.1 418.5 63.9 418.7 68.7 418.9 63.8 419.1 70.2 419.3 64.5 419.5 68.9 419.7 65.5 419.9 67.8 420.1 63.2 420.3 68.0 420.5 63.5 420.6 67.6 420.8 62.7 421.0 67.9 421.2 63.4 421.4 66.1 421.6 61.4 421.8 64.8 422.0 61.5 422.2 64.9 422.4 59.0 422.6 64.4 422.8 60.3 423.0 65.5 423.2 61.3 423.4 64.4 423.6 62.2 423.8 66.4 424.0 63.6 424.2 66.5 424.4 63.4 424.6 68.0 424.8 64.4 425.0 67.8 425.2 62.9 425.4 69.5 425.6 63.6 425.8 69.0 426.0 63.9 426.2 67.7 426.4 65.3 426.6 67.5 426.8 63.3 427.0 69.2 427.2 63.2 427.4 67.6 427.6 64.0 427.8 68.7 428.0 63.8 428.2 68.3 428.4 63.1 428.6 67.7 428.8 64.2 428.9 69.3 429.1 63.3 429.3 69.3 429.5 63.8 429.7 69.4 429.9 63.3 430.1 68.4 430.3 63.8 430.5 69.6 430.7 63.3 430.9 68.5 431.1 63.5 431.3 69.5 431.5 64.0 431.7 68.9 431.9 64.4 432.1 68.8 432.3 63.9 432.5 67.6 432.7 63.8 432.9 69.7 433.1 63.2 433.3 69.0 433.5 64.3 433.7 69.0 433.9 63.8 434.1 68.3 434.3 63.2 434.5 67.4 434.7 63.4 434.9 67.3 435.1 63.7 435.3 68.3 435.5 64.5 435.7 68.8 435.9 63.9 436.1 68.6 436.3 62.8 436.5 67.7 436.7 65.0 436.9 67.7 437.0 63.3 437.2 67.5 437.4 64.5 437.6 69.1 437.8 63.3 438.0 68.0 438.2 62.7 438.4 67.7 438.6 63.2 438.8 67.3 439.0 63.8 439.2 68.8 439.4 62.6 439.6 68.9 439.8 63.8 440.0 68.2 440.2 63.9 440.4 67.1 440.6 63.5 440.8 68.7 441.0 62.6 441.2 68.4 441.4 62.3 441.6 67.3 441.8 64.2 442.0 67.7 442.2 63.9 442.4 67.1 442.6 63.5 442.8 68.0 443.0 63.3 443.2 67.3 443.4 62.4 443.6 68.8 443.8 63.3 444.0 66.6 444.2 64.3 444.4 68.5 444.6 64.2 444.8 68.1 445.0 62.9 445.1 67.1 445.3 62.4 445.5 66.3 445.7 63.9 445.9 67.3 446.1 64.1 446.3 68.2 446.5 63.6 446.7 66.5 446.9 64.0 447.1 67.7 447.3 63.0 447.5 67.6" stroke="#8a4a28" stroke-width="0.65" fill="none" stroke-linejoin="round"/>
<path d="M421.3 64.8 421.5 64.4 421.7 63.9 421.8 63.4 422.0 62.8 422.2 62.1 422.3 61.1 422.5 58.3 422.7 47.1 422.8 58.2 423.0 61.1 423.1 62.1 423.3 62.7 423.5 63.3 423.6 63.8 423.8 64.2 424.0 64.6" stroke="#8a4a28" stroke-width="0.5" fill="none" stroke-linejoin="round"/>
</svg>
<rect x="529.30" y="78.50" width="48.70" height="30.20" fill="#fff" stroke="#a0a0a0" stroke-width="0.6"/>
<line x1="532.73" y1="108.70" x2="532.73" y2="107.70" stroke="#999" stroke-width="0.4" />
<line x1="532.73" y1="78.50" x2="532.73" y2="79.50" stroke="#999" stroke-width="0.4" />
<text x="532.73" y="114.40" font-size="4.75" fill="#2a2a2a" text-anchor="middle" font-weight="normal" >145</text>
<line x1="546.45" y1="108.70" x2="546.45" y2="107.70" stroke="#999" stroke-width="0.4" />
<line x1="546.45" y1="78.50" x2="546.45" y2="79.50" stroke="#999" stroke-width="0.4" />
<text x="546.45" y="114.40" font-size="4.75" fill="#2a2a2a" text-anchor="middle" font-weight="normal" >150</text>
<line x1="560.17" y1="108.70" x2="560.17" y2="107.70" stroke="#999" stroke-width="0.4" />
<line x1="560.17" y1="78.50" x2="560.17" y2="79.50" stroke="#999" stroke-width="0.4" />
<text x="560.17" y="114.40" font-size="4.75" fill="#2a2a2a" text-anchor="middle" font-weight="normal" >155</text>
<line x1="573.88" y1="108.70" x2="573.88" y2="107.70" stroke="#999" stroke-width="0.4" />
<line x1="573.88" y1="78.50" x2="573.88" y2="79.50" stroke="#999" stroke-width="0.4" />
<text x="573.88" y="114.40" font-size="4.75" fill="#2a2a2a" text-anchor="middle" font-weight="normal" >160</text>
<line x1="529.30" y1="78.90" x2="530.30" y2="78.90" stroke="#999" stroke-width="0.4" />
<line x1="578.00" y1="78.90" x2="577.00" y2="78.90" stroke="#999" stroke-width="0.4" />
<text x="527.10" y="80.55" font-size="4.75" fill="#2a2a2a" text-anchor="end" font-weight="normal" >2</text>
<line x1="529.30" y1="88.83" x2="530.30" y2="88.83" stroke="#999" stroke-width="0.4" />
<line x1="578.00" y1="88.83" x2="577.00" y2="88.83" stroke="#999" stroke-width="0.4" />
<text x="527.10" y="90.48" font-size="4.75" fill="#2a2a2a" text-anchor="end" font-weight="normal" >0</text>
<line x1="529.30" y1="98.77" x2="530.30" y2="98.77" stroke="#999" stroke-width="0.4" />
<line x1="578.00" y1="98.77" x2="577.00" y2="98.77" stroke="#999" stroke-width="0.4" />
<text x="527.10" y="100.42" font-size="4.75" fill="#2a2a2a" text-anchor="end" font-weight="normal" >−2</text>
<line x1="529.30" y1="108.70" x2="530.30" y2="108.70" stroke="#999" stroke-width="0.4" />
<line x1="578.00" y1="108.70" x2="577.00" y2="108.70" stroke="#999" stroke-width="0.4" />
<text x="527.10" y="110.35" font-size="4.75" fill="#2a2a2a" text-anchor="end" font-weight="normal" >−4</text>
<svg x="529.30" y="78.50" width="48.70" height="30.20" viewBox="529.30 78.50 48.70 30.20" overflow="hidden">
<path d="M530.1 104.1 530.4 94.8 530.7 104.1" stroke="#b07658" stroke-width="0.7" fill="none" stroke-linejoin="round"/>
<path d="M536.2 103.8 536.4 92.8 536.7 103.8" stroke="#b07658" stroke-width="0.7" fill="none" stroke-linejoin="round"/>
<path d="M542.1 103.4 542.3 90.8 542.6 103.4" stroke="#b07658" stroke-width="0.7" fill="none" stroke-linejoin="round"/>
<path d="M547.5 103.0 547.8 88.3 548.1 103.0" stroke="#b07658" stroke-width="0.7" fill="none" stroke-linejoin="round"/>
<path d="M553.4 97.5 553.7 83.6 554.0 97.5" stroke="#8a4a28" stroke-width="0.7" fill="none" stroke-linejoin="round"/>
<path d="M559.6 102.4 559.9 89.8 560.2 102.4" stroke="#b07658" stroke-width="0.7" fill="none" stroke-linejoin="round"/>
<path d="M565.1 102.3 565.4 88.8 565.7 102.3" stroke="#b07658" stroke-width="0.7" fill="none" stroke-linejoin="round"/>
<path d="M570.9 102.1 571.1 88.8 571.4 102.1" stroke="#b07658" stroke-width="0.7" fill="none" stroke-linejoin="round"/>
<path d="M576.8 101.8 577.0 91.6 577.3 101.8" stroke="#b07658" stroke-width="0.7" fill="none" stroke-linejoin="round"/>
<path d="M527.2 106.4 527.4 101.6 527.6 106.9 527.8 102.8 528.0 105.2 528.2 102.2 528.4 105.9 528.6 101.1 528.8 106.9 529.0 101.6 529.2 106.5 529.4 101.5 529.6 105.5 529.8 102.0 530.0 105.5 530.2 100.8 530.4 105.2 530.6 101.0 530.8 105.3 531.0 101.3 531.2 105.9 531.4 102.0 531.6 107.1 531.8 102.9 532.0 105.2 532.2 100.7 532.4 106.2 532.6 102.7 532.8 107.4 533.0 100.6 533.2 105.2 533.4 101.8 533.6 105.3 533.8 102.1 534.0 106.4 534.2 102.4 534.4 106.6 534.6 102.7 534.8 105.3 535.0 100.8 535.2 105.8 535.4 101.7 535.6 106.3 535.8 101.6 536.0 105.8 536.2 102.6 536.4 106.6 536.6 100.3 536.8 107.2 537.0 101.1 537.2 105.6 537.4 101.8 537.6 106.4 537.8 101.0 538.0 105.0 538.2 102.0 538.4 105.6 538.6 101.4 538.7 106.6 538.9 101.4 539.1 104.7 539.3 100.6 539.5 105.7 539.7 101.3 539.9 105.1 540.1 101.5 540.3 105.5 540.5 100.6 540.7 104.8 540.9 101.1 541.1 105.0 541.3 100.8 541.5 104.6 541.7 101.7 541.9 105.3 542.1 100.8 542.3 104.6 542.5 101.3 542.7 105.0 542.9 101.7 543.1 105.6 543.3 100.0 543.5 105.6 543.7 100.0 543.9 104.8 544.1 100.0 544.3 105.2 544.5 101.8 544.7 106.1 544.9 100.0 545.1 104.3 545.3 101.5 545.5 106.1 545.7 101.3 545.9 104.8 546.1 102.1 546.3 104.3 546.5 100.6 546.7 106.6 546.9 99.6 547.1 105.4 547.3 102.0 547.5 104.9 547.7 100.1 547.9 106.1 548.1 100.4 548.3 104.5 548.5 100.6 548.7 105.1 548.9 100.3 549.1 104.5 549.3 99.4 549.5 106.0 549.7 101.3 549.9 104.4 550.1 99.4 550.3 104.2 550.5 99.1 550.7 104.7 550.9 99.5 551.0 104.9 551.2 100.5 551.4 103.6 551.6 100.1 551.8 104.2 552.0 98.6 552.2 102.4 552.4 97.4 552.6 102.3 552.8 98.1 553.0 101.3 553.2 95.2 553.4 100.5 553.6 95.1 553.8 100.8 554.0 94.2 554.2 100.8 554.4 96.3 554.6 101.4 554.8 96.2 555.0 102.9 555.2 97.9 555.4 102.6 555.6 99.1 555.8 104.1 556.0 99.1 556.2 102.7 556.4 99.0 556.6 105.1 556.8 99.0 557.0 105.3 557.2 98.8 557.4 104.5 557.6 99.2 557.8 104.2 558.0 101.0 558.2 104.2 558.4 100.5 558.6 105.7 558.8 99.6 559.0 104.7 559.2 99.8 559.4 103.7 559.6 100.1 559.8 105.2 560.0 100.4 560.2 104.1 560.4 100.4 560.6 104.3 560.8 99.7 561.0 103.8 561.2 101.2 561.4 104.2 561.6 99.7 561.8 105.3 562.0 99.8 562.2 105.7 562.4 100.5 562.6 103.5 562.8 100.2 563.0 104.5 563.2 100.9 563.3 105.0 563.5 100.5 563.7 104.0 563.9 100.5 564.1 105.7 564.3 101.3 564.5 104.3 564.7 100.6 564.9 103.9 565.1 100.2 565.3 103.9 565.5 99.0 565.7 104.6 565.9 99.5 566.1 103.7 566.3 100.1 566.5 104.8 566.7 99.2 566.9 103.9 567.1 100.1 567.3 105.3 567.5 99.1 567.7 103.8 567.9 99.8 568.1 105.1 568.3 100.2 568.5 104.9 568.7 99.5 568.9 105.6 569.1 99.8 569.3 104.8 569.5 100.2 569.7 104.9 569.9 100.3 570.1 104.4 570.3 100.2 570.5 103.9 570.7 100.7 570.9 103.7 571.1 99.7 571.3 103.7 571.5 100.9 571.7 105.0 571.9 100.3 572.1 105.3 572.3 99.5 572.5 104.0 572.7 98.8 572.9 105.2 573.1 100.1 573.3 103.3 573.5 99.3 573.7 105.0 573.9 99.4 574.1 104.9 574.3 99.9 574.5 104.4 574.7 100.2 574.9 103.9 575.1 99.9 575.3 103.8 575.5 99.8 575.6 104.9 575.8 100.4 576.0 103.4 576.2 100.2 576.4 105.2 576.6 99.5 576.8 103.0 577.0 98.7 577.2 104.9 577.4 98.7 577.6 103.7 577.8 98.9 578.0 103.5 578.2 100.3 578.4 104.9 578.6 98.6 578.8 103.2" stroke="#8a4a28" stroke-width="0.65" fill="none" stroke-linejoin="round"/>
<path d="M552.4 100.6 552.6 100.3 552.7 99.9 552.9 99.4 553.1 98.8 553.2 98.1 553.4 97.1 553.6 94.3 553.7 83.6 553.9 93.9 554.0 96.5 554.2 97.4 554.4 98.0 554.5 98.5 554.7 99.1 554.9 99.5 555.0 99.9" stroke="#8a4a28" stroke-width="0.5" fill="none" stroke-linejoin="round"/>
</svg>
<rect x="592.00" y="78.50" width="48.70" height="30.20" fill="#fff" stroke="#a0a0a0" stroke-width="0.6"/>
<line x1="595.43" y1="108.70" x2="595.43" y2="107.70" stroke="#999" stroke-width="0.4" />
<line x1="595.43" y1="78.50" x2="595.43" y2="79.50" stroke="#999" stroke-width="0.4" />
<text x="595.43" y="114.40" font-size="4.75" fill="#2a2a2a" text-anchor="middle" font-weight="normal" >145</text>
<line x1="609.15" y1="108.70" x2="609.15" y2="107.70" stroke="#999" stroke-width="0.4" />
<line x1="609.15" y1="78.50" x2="609.15" y2="79.50" stroke="#999" stroke-width="0.4" />
<text x="609.15" y="114.40" font-size="4.75" fill="#2a2a2a" text-anchor="middle" font-weight="normal" >150</text>
<line x1="622.87" y1="108.70" x2="622.87" y2="107.70" stroke="#999" stroke-width="0.4" />
<line x1="622.87" y1="78.50" x2="622.87" y2="79.50" stroke="#999" stroke-width="0.4" />
<text x="622.87" y="114.40" font-size="4.75" fill="#2a2a2a" text-anchor="middle" font-weight="normal" >155</text>
<line x1="636.58" y1="108.70" x2="636.58" y2="107.70" stroke="#999" stroke-width="0.4" />
<line x1="636.58" y1="78.50" x2="636.58" y2="79.50" stroke="#999" stroke-width="0.4" />
<text x="636.58" y="114.40" font-size="4.75" fill="#2a2a2a" text-anchor="middle" font-weight="normal" >160</text>
<line x1="592.00" y1="78.90" x2="593.00" y2="78.90" stroke="#999" stroke-width="0.4" />
<line x1="640.70" y1="78.90" x2="639.70" y2="78.90" stroke="#999" stroke-width="0.4" />
<text x="589.80" y="80.55" font-size="4.75" fill="#2a2a2a" text-anchor="end" font-weight="normal" >2</text>
<line x1="592.00" y1="88.83" x2="593.00" y2="88.83" stroke="#999" stroke-width="0.4" />
<line x1="640.70" y1="88.83" x2="639.70" y2="88.83" stroke="#999" stroke-width="0.4" />
<text x="589.80" y="90.48" font-size="4.75" fill="#2a2a2a" text-anchor="end" font-weight="normal" >0</text>
<line x1="592.00" y1="98.77" x2="593.00" y2="98.77" stroke="#999" stroke-width="0.4" />
<line x1="640.70" y1="98.77" x2="639.70" y2="98.77" stroke="#999" stroke-width="0.4" />
<text x="589.80" y="100.42" font-size="4.75" fill="#2a2a2a" text-anchor="end" font-weight="normal" >−2</text>
<line x1="592.00" y1="108.70" x2="593.00" y2="108.70" stroke="#999" stroke-width="0.4" />
<line x1="640.70" y1="108.70" x2="639.70" y2="108.70" stroke="#999" stroke-width="0.4" />
<text x="589.80" y="110.35" font-size="4.75" fill="#2a2a2a" text-anchor="end" font-weight="normal" >−4</text>
<svg x="592.00" y="78.50" width="48.70" height="30.20" viewBox="592.00 78.50 48.70 30.20" overflow="hidden">
<path d="M592.8 104.1 593.1 94.8 593.4 104.1" stroke="#b07658" stroke-width="0.7" fill="none" stroke-linejoin="round"/>
<path d="M598.9 103.8 599.1 95.8 599.4 103.8" stroke="#b07658" stroke-width="0.7" fill="none" stroke-linejoin="round"/>
<path d="M604.5 103.6 604.8 90.8 605.0 103.6" stroke="#b07658" stroke-width="0.7" fill="none" stroke-linejoin="round"/>
<path d="M610.2 103.2 610.5 90.3 610.8 103.2" stroke="#b07658" stroke-width="0.7" fill="none" stroke-linejoin="round"/>
<path d="M616.1 97.8 616.4 83.1 616.7 97.8" stroke="#8a4a28" stroke-width="0.7" fill="none" stroke-linejoin="round"/>
<path d="M622.3 102.7 622.6 90.1 622.9 102.7" stroke="#b07658" stroke-width="0.7" fill="none" stroke-linejoin="round"/>
<path d="M628.1 102.7 628.4 88.8 628.6 102.7" stroke="#b07658" stroke-width="0.7" fill="none" stroke-linejoin="round"/>
<path d="M634.0 102.5 634.3 89.8 634.5 102.5" stroke="#b07658" stroke-width="0.7" fill="none" stroke-linejoin="round"/>
<path d="M639.7 102.3 640.0 93.6 640.3 102.3" stroke="#b07658" stroke-width="0.7" fill="none" stroke-linejoin="round"/>
<path d="M589.9 105.9 590.1 101.5 590.3 106.9 590.5 101.1 590.7 105.7 590.9 102.6 591.1 105.6 591.3 102.6 591.5 107.0 591.7 102.8 591.9 106.5 592.1 102.6 592.3 105.9 592.5 102.0 592.7 107.2 592.9 101.6 593.1 105.2 593.3 102.4 593.5 105.5 593.7 100.9 593.9 107.1 594.1 101.0 594.3 107.1 594.5 101.2 594.7 107.4 594.9 101.0 595.1 105.7 595.3 100.9 595.5 106.2 595.7 101.1 595.9 106.4 596.1 101.9 596.3 105.9 596.5 101.9 596.7 105.8 596.9 102.6 597.1 107.0 597.3 100.9 597.5 107.4 597.7 101.2 597.9 106.3 598.1 101.0 598.3 105.2 598.5 101.2 598.7 106.0 598.9 102.4 599.1 105.4 599.3 101.5 599.5 105.5 599.7 101.7 599.9 106.3 600.1 101.8 600.3 105.2 600.5 101.5 600.7 105.4 600.9 102.2 601.1 105.3 601.3 101.8 601.4 105.0 601.6 101.1 601.8 107.1 602.0 101.7 602.2 106.5 602.4 100.4 602.6 104.8 602.8 102.3 603.0 106.7 603.2 100.6 603.4 106.3 603.6 102.2 603.8 105.7 604.0 100.5 604.2 106.8 604.4 100.6 604.6 105.1 604.8 100.5 605.0 105.5 605.2 100.8 605.4 104.9 605.6 100.1 605.8 106.0 606.0 100.7 606.2 105.1 606.4 101.0 606.6 106.0 606.8 101.0 607.0 105.4 607.2 100.6 607.4 105.3 607.6 101.7 607.8 104.9 608.0 100.7 608.2 104.7 608.4 101.8 608.6 104.6 608.8 100.7 609.0 105.7 609.2 101.0 609.4 104.4 609.6 101.2 609.8 105.2 610.0 102.0 610.2 104.3 610.4 99.7 610.6 104.5 610.8 101.4 611.0 104.8 611.2 100.6 611.4 104.3 611.6 100.9 611.8 105.0 612.0 99.9 612.2 104.0 612.4 101.1 612.6 105.1 612.8 99.4 613.0 105.1 613.2 100.5 613.4 105.3 613.6 100.8 613.7 103.5 613.9 100.0 614.1 105.4 614.3 99.1 614.5 103.4 614.7 98.8 614.9 104.3 615.1 99.2 615.3 102.9 615.5 98.1 615.7 101.1 615.9 97.1 616.1 99.9 616.3 96.0 616.5 98.9 616.7 95.8 616.9 99.4 617.1 95.8 617.3 101.7 617.5 98.7 617.7 103.2 617.9 99.2 618.1 103.2 618.3 98.9 618.5 103.4 618.7 100.0 618.9 104.0 619.1 100.7 619.3 105.3 619.5 100.9 619.7 105.4 619.9 100.8 620.1 104.2 620.3 100.5 620.5 103.7 620.7 101.2 620.9 104.5 621.1 100.5 621.3 105.8 621.5 99.2 621.7 103.8 621.9 100.4 622.1 104.1 622.3 99.7 622.5 104.6 622.7 99.5 622.9 105.1 623.1 101.4 623.3 103.8 623.5 101.1 623.7 105.9 623.9 101.3 624.1 105.0 624.3 100.8 624.5 104.6 624.7 99.8 624.9 104.3 625.1 100.0 625.3 105.4 625.5 99.4 625.7 105.0 625.9 99.4 626.0 104.8 626.2 100.3 626.4 105.3 626.6 99.6 626.8 105.9 627.0 101.4 627.2 104.1 627.4 100.4 627.6 105.7 627.8 100.3 628.0 104.4 628.2 99.3 628.4 104.4 628.6 101.4 628.8 103.8 629.0 101.5 629.2 105.5 629.4 101.3 629.6 105.4 629.8 99.5 630.0 106.1 630.2 99.6 630.4 104.7 630.6 100.0 630.8 105.7 631.0 99.8 631.2 104.3 631.4 99.7 631.6 103.9 631.8 100.8 632.0 106.0 632.2 100.4 632.4 104.2 632.6 99.6 632.8 104.7 633.0 101.5 633.2 103.6 633.4 100.8 633.6 104.3 633.8 99.2 634.0 104.1 634.2 99.4 634.4 105.6 634.6 100.4 634.8 105.9 635.0 99.5 635.2 104.7 635.4 100.7 635.6 104.6 635.8 99.2 636.0 104.8 636.2 100.9 636.4 104.3 636.6 100.2 636.8 103.9 637.0 99.9 637.2 103.5 637.4 99.3 637.6 103.8 637.8 101.0 638.0 104.8 638.2 100.5 638.3 105.5 638.5 100.1 638.7 104.6 638.9 99.2 639.1 103.9 639.3 99.4 639.5 104.9 639.7 100.2 639.9 105.6 640.1 101.2 640.3 105.4 640.5 100.8 640.7 105.3 640.9 100.8 641.1 103.4 641.3 99.9 641.5 105.5" stroke="#8a4a28" stroke-width="0.65" fill="none" stroke-linejoin="round"/>
<path d="M615.1 100.9 615.3 100.5 615.4 100.1 615.6 99.6 615.8 99.1 615.9 98.3 616.1 97.3 616.3 94.3 616.4 83.1 616.6 94.0 616.7 96.7 616.9 97.6 617.1 98.2 617.2 98.8 617.4 99.3 617.6 99.8 617.7 100.2" stroke="#8a4a28" stroke-width="0.5" fill="none" stroke-linejoin="round"/>
</svg>
<line x1="419.50" y1="82.40" x2="419.50" y2="106.60" stroke="#8a553d" stroke-width="0.85" />
<line x1="558.80" y1="45.10" x2="553.30" y2="56.50" stroke="#8a553d" stroke-width="0.85" />
<line x1="615.40" y1="32.50" x2="615.40" y2="57.90" stroke="#8a553d" stroke-width="0.85" />
<path d="M417.00 113.50H421.90M419.45 111.05V115.95M417.69 111.74L421.21 115.26M417.69 115.26L421.21 111.74" stroke="#3b58a8" stroke-width="0.7" fill="none" stroke-opacity="1"/>
<path d="M417.10 113.20H421.80M419.45 110.85V115.55M417.76 111.51L421.14 114.89M417.76 114.89L421.14 111.51" stroke="#e63462" stroke-width="0.7" fill="none" stroke-opacity="0.72"/>
<circle cx="419.45" cy="113.20" r="0.6" fill="#e63462"/>
<path d="M444.95 100.10H449.85M447.40 97.65V102.55M445.64 98.34L449.16 101.86M445.64 101.86L449.16 98.34" stroke="#3b58a8" stroke-width="0.7" fill="none" stroke-opacity="1"/>
<path d="M445.05 99.80H449.75M447.40 97.45V102.15M445.71 98.11L449.09 101.49M445.71 101.49L449.09 98.11" stroke="#e63462" stroke-width="0.7" fill="none" stroke-opacity="0.72"/>
<circle cx="447.40" cy="99.80" r="0.6" fill="#e63462"/>
<path d="M472.90 84.10H477.80M475.35 81.65V86.55M473.59 82.34L477.11 85.86M473.59 85.86L477.11 82.34" stroke="#3b58a8" stroke-width="0.7" fill="none" stroke-opacity="1"/>
<path d="M473.00 83.80H477.70M475.35 81.45V86.15M473.66 82.11L477.04 85.49M473.66 85.49L477.04 82.11" stroke="#e63462" stroke-width="0.7" fill="none" stroke-opacity="0.72"/>
<circle cx="475.35" cy="83.80" r="0.6" fill="#e63462"/>
<path d="M500.95 71.20H505.65M503.30 68.85V73.55M501.61 69.51L504.99 72.89M501.61 72.89L504.99 69.51" stroke="#3b58a8" stroke-width="0.7" fill="none" stroke-opacity="1"/>
<path d="M500.95 68.10H505.65M503.30 65.75V70.45M501.61 66.41L504.99 69.79M501.61 69.79L504.99 66.41" stroke="#e63462" stroke-width="0.7" fill="none" stroke-opacity="1"/>
<path d="M528.80 55.10H533.70M531.25 52.65V57.55M529.49 53.34L533.01 56.86M529.49 56.86L533.01 53.34" stroke="#3b58a8" stroke-width="0.7" fill="none" stroke-opacity="1"/>
<path d="M528.90 54.80H533.60M531.25 52.45V57.15M529.56 53.11L532.94 56.49M529.56 56.49L532.94 53.11" stroke="#e63462" stroke-width="0.7" fill="none" stroke-opacity="0.72"/>
<circle cx="531.25" cy="54.80" r="0.6" fill="#e63462"/>
<path d="M556.75 39.80H561.65M559.20 37.35V42.25M557.44 38.04L560.96 41.56M557.44 41.56L560.96 38.04" stroke="#3b58a8" stroke-width="0.7" fill="none" stroke-opacity="1"/>
<path d="M556.85 39.50H561.55M559.20 37.15V41.85M557.51 37.81L560.89 41.19M557.51 41.19L560.89 37.81" stroke="#e63462" stroke-width="0.7" fill="none" stroke-opacity="0.72"/>
<circle cx="559.20" cy="39.50" r="0.6" fill="#e63462"/>
<path d="M584.70 32.10H589.60M587.15 29.65V34.55M585.39 30.34L588.91 33.86M585.39 33.86L588.91 30.34" stroke="#3b58a8" stroke-width="0.7" fill="none" stroke-opacity="1"/>
<path d="M584.80 31.80H589.50M587.15 29.45V34.15M585.46 30.11L588.84 33.49M585.46 33.49L588.84 30.11" stroke="#e63462" stroke-width="0.7" fill="none" stroke-opacity="0.72"/>
<circle cx="587.15" cy="31.80" r="0.6" fill="#e63462"/>
<path d="M612.65 28.50H617.55M615.10 26.05V30.95M613.34 26.74L616.86 30.26M613.34 30.26L616.86 26.74" stroke="#3b58a8" stroke-width="0.7" fill="none" stroke-opacity="1"/>
<path d="M612.75 28.20H617.45M615.10 25.85V30.55M613.41 26.51L616.79 29.89M613.41 29.89L616.79 26.51" stroke="#e63462" stroke-width="0.7" fill="none" stroke-opacity="0.72"/>
<circle cx="615.10" cy="28.20" r="0.6" fill="#e63462"/>
<text x="406.90" y="30.70" font-size="4.75" fill="#e63462"><tspan font-style="italic">A</tspan><tspan font-size="3.6" dy="1.0">z</tspan><tspan dy="-1.0">: 9.82 nm</tspan></text>
<text x="406.90" y="39.00" font-size="4.75" fill="#3b58a8"><tspan font-style="italic">γ</tspan><tspan font-size="3.6" dy="1.2">ex</tspan><tspan dy="-1.2">: 1942.84 Hz</tspan></text>
<text x="536.80" y="64.60" font-size="4.75" fill="#e63462"><tspan font-style="italic">A</tspan><tspan font-size="3.6" dy="1.0">z</tspan><tspan dy="-1.0">: 14.55 nm</tspan></text>
<text x="536.80" y="72.90" font-size="4.75" fill="#3b58a8"><tspan font-style="italic">γ</tspan><tspan font-size="3.6" dy="1.2">ex</tspan><tspan dy="-1.2">: 2126.02 Hz</tspan></text>
<text x="595.80" y="64.60" font-size="4.75" fill="#e63462"><tspan font-style="italic">A</tspan><tspan font-size="3.6" dy="1.0">z</tspan><tspan dy="-1.0">: 15.57 nm</tspan></text>
<text x="595.80" y="72.90" font-size="4.75" fill="#3b58a8"><tspan font-style="italic">γ</tspan><tspan font-size="3.6" dy="1.2">ex</tspan><tspan dy="-1.2">: 2157.76 Hz</tspan></text>
<text x="-0.60" y="174.20" font-size="15" fill="#111" text-anchor="start" font-weight="bold" >c</text>
<text x="38.20" y="176.30" font-size="7.3" fill="#2e2e2e" text-anchor="start" font-weight="bold" >Device A</text>
<text x="77.70" y="176.30" font-size="7.3" fill="#2e2e2e" font-weight="bold">24V<tspan font-size="4.6" dy="1.7" letter-spacing="-0.25">dc</tspan><tspan dy="-1.7"> 1.5V</tspan><tspan font-size="4.6" dy="1.7" letter-spacing="-0.25">ac</tspan></text>
<text x="290.00" y="177.00" font-size="7.4" fill="#222" font-weight="bold" text-anchor="end"><tspan font-size="9" font-style="italic">α</tspan><tspan font-size="4.6" dy="1.6" font-style="italic">A</tspan><tspan dy="-1.6"> = 0.0165</tspan></text>
<line x1="39.70" y1="181.60" x2="291.50" y2="181.60" stroke="#8c8c8c" stroke-width="0.9" />
<line x1="39.70" y1="287.40" x2="291.50" y2="287.40" stroke="#8c8c8c" stroke-width="0.9" />
<line x1="39.70" y1="181.60" x2="39.70" y2="287.40" stroke="#a9b6dc" stroke-width="0.9" />
<line x1="291.50" y1="181.60" x2="291.50" y2="287.40" stroke="#eea6ba" stroke-width="0.9" />
<line x1="59.40" y1="287.40" x2="59.40" y2="289.70" stroke="#8c8c8c" stroke-width="0.6" />
<text x="59.40" y="299.00" font-size="7.35" fill="#3a3a3a" text-anchor="middle" font-weight="normal" >59.347</text>
<line x1="98.00" y1="287.40" x2="98.00" y2="289.70" stroke="#8c8c8c" stroke-width="0.6" />
<text x="98.00" y="299.00" font-size="7.35" fill="#3a3a3a" text-anchor="middle" font-weight="normal" >59.349</text>
<line x1="136.60" y1="287.40" x2="136.60" y2="289.70" stroke="#8c8c8c" stroke-width="0.6" />
<text x="136.60" y="299.00" font-size="7.35" fill="#3a3a3a" text-anchor="middle" font-weight="normal" >59.351</text>
<line x1="175.20" y1="287.40" x2="175.20" y2="289.70" stroke="#8c8c8c" stroke-width="0.6" />
<text x="175.20" y="299.00" font-size="7.35" fill="#3a3a3a" text-anchor="middle" font-weight="normal" >59.353</text>
<line x1="213.80" y1="287.40" x2="213.80" y2="289.70" stroke="#8c8c8c" stroke-width="0.6" />
<text x="213.80" y="299.00" font-size="7.35" fill="#3a3a3a" text-anchor="middle" font-weight="normal" >59.355</text>
<line x1="252.40" y1="287.40" x2="252.40" y2="289.70" stroke="#8c8c8c" stroke-width="0.6" />
<text x="252.40" y="299.00" font-size="7.35" fill="#3a3a3a" text-anchor="middle" font-weight="normal" >59.357</text>
<line x1="291.00" y1="287.40" x2="291.00" y2="289.70" stroke="#8c8c8c" stroke-width="0.6" />
<text x="291.00" y="299.00" font-size="7.35" fill="#3a3a3a" text-anchor="middle" font-weight="normal" >59.359</text>
<line x1="37.10" y1="270.50" x2="39.70" y2="270.50" stroke="#3b58a8" stroke-width="0.6" />
<text x="34.70" y="273.10" font-size="7.35" fill="#3b58a8" text-anchor="end" font-weight="normal" >381</text>
<line x1="37.10" y1="252.45" x2="39.70" y2="252.45" stroke="#3b58a8" stroke-width="0.6" />
<text x="34.70" y="255.05" font-size="7.35" fill="#3b58a8" text-anchor="end" font-weight="normal" >382</text>
<line x1="37.10" y1="234.40" x2="39.70" y2="234.40" stroke="#3b58a8" stroke-width="0.6" />
<text x="34.70" y="237.00" font-size="7.35" fill="#3b58a8" text-anchor="end" font-weight="normal" >383</text>
<line x1="37.10" y1="216.35" x2="39.70" y2="216.35" stroke="#3b58a8" stroke-width="0.6" />
<text x="34.70" y="218.95" font-size="7.35" fill="#3b58a8" text-anchor="end" font-weight="normal" >384</text>
<line x1="37.10" y1="198.30" x2="39.70" y2="198.30" stroke="#3b58a8" stroke-width="0.6" />
<text x="34.70" y="200.90" font-size="7.35" fill="#3b58a8" text-anchor="end" font-weight="normal" >385</text>
<line x1="291.50" y1="276.90" x2="294.10" y2="276.90" stroke="#e63462" stroke-width="0.6" />
<text x="297.50" y="279.80" font-size="7.35" fill="#e63462" text-anchor="start" font-weight="normal" >270</text>
<line x1="291.50" y1="248.73" x2="294.10" y2="248.73" stroke="#e63462" stroke-width="0.6" />
<text x="297.50" y="251.63" font-size="7.35" fill="#e63462" text-anchor="start" font-weight="normal" >280</text>
<line x1="291.50" y1="220.56" x2="294.10" y2="220.56" stroke="#e63462" stroke-width="0.6" />
<text x="297.50" y="223.46" font-size="7.35" fill="#e63462" text-anchor="start" font-weight="normal" >290</text>
<line x1="291.50" y1="192.39" x2="294.10" y2="192.39" stroke="#e63462" stroke-width="0.6" />
<text x="297.50" y="195.29" font-size="7.35" fill="#e63462" text-anchor="start" font-weight="normal" >300</text>
<text x="165.60" y="309.10" font-size="7.42" fill="#333" text-anchor="middle" font-weight="normal" >Driving frequency (kHz)</text>
<text transform="translate(5.80,235.00) rotate(-90)" font-size="7.5" fill="#3b58a8" text-anchor="middle">Energy exchange</text>
<text transform="translate(15.20,237.00) rotate(-90)" font-size="7.5" fill="#3b58a8" text-anchor="middle">rate <tspan font-style="italic">γ</tspan><tspan font-size="4.3" dy="1.2">ex</tspan><tspan dy="-1.2"> (Hz)</tspan></text>
<text transform="translate(325.90,235.20) rotate(90)" font-size="7.55" fill="#e63462" text-anchor="middle">Torsional mode amplitude</text>
<text transform="translate(316.50,235.60) rotate(90)" font-size="7.55" fill="#e63462" text-anchor="middle"><tspan font-style="italic">A</tspan><tspan font-size="4.3" dy="1.2">z</tspan><tspan dy="-1.2"> (nm)</tspan></text>
<rect x="49.70" y="203.30" width="49.10" height="30.50" fill="#fff" stroke="#a0a0a0" stroke-width="0.6"/>
<line x1="57.30" y1="233.80" x2="57.30" y2="232.80" stroke="#999" stroke-width="0.4" />
<line x1="57.30" y1="203.30" x2="57.30" y2="204.30" stroke="#999" stroke-width="0.4" />
<text x="57.30" y="239.50" font-size="4.75" fill="#2a2a2a" text-anchor="middle" font-weight="normal" >176</text>
<line x1="73.84" y1="233.80" x2="73.84" y2="232.80" stroke="#999" stroke-width="0.4" />
<line x1="73.84" y1="203.30" x2="73.84" y2="204.30" stroke="#999" stroke-width="0.4" />
<text x="73.84" y="239.50" font-size="4.75" fill="#2a2a2a" text-anchor="middle" font-weight="normal" >178</text>
<line x1="90.37" y1="233.80" x2="90.37" y2="232.80" stroke="#999" stroke-width="0.4" />
<line x1="90.37" y1="203.30" x2="90.37" y2="204.30" stroke="#999" stroke-width="0.4" />
<text x="90.37" y="239.50" font-size="4.75" fill="#2a2a2a" text-anchor="middle" font-weight="normal" >180</text>
<line x1="49.70" y1="209.19" x2="50.70" y2="209.19" stroke="#999" stroke-width="0.4" />
<line x1="98.80" y1="209.19" x2="97.80" y2="209.19" stroke="#999" stroke-width="0.4" />
<text x="47.50" y="210.84" font-size="4.75" fill="#2a2a2a" text-anchor="end" font-weight="normal" >2</text>
<line x1="49.70" y1="219.34" x2="50.70" y2="219.34" stroke="#999" stroke-width="0.4" />
<line x1="98.80" y1="219.34" x2="97.80" y2="219.34" stroke="#999" stroke-width="0.4" />
<text x="47.50" y="220.99" font-size="4.75" fill="#2a2a2a" text-anchor="end" font-weight="normal" >0</text>
<line x1="49.70" y1="229.49" x2="50.70" y2="229.49" stroke="#999" stroke-width="0.4" />
<line x1="98.80" y1="229.49" x2="97.80" y2="229.49" stroke="#999" stroke-width="0.4" />
<text x="47.50" y="231.14" font-size="4.75" fill="#2a2a2a" text-anchor="end" font-weight="normal" >−2</text>
<svg x="49.70" y="203.30" width="49.10" height="30.50" viewBox="49.70 203.30 49.10 30.50" overflow="hidden">
<path d="M56.4 228.2 56.4 226.9" stroke="#c69278" stroke-width="0.8" fill="none" stroke-linejoin="round"/>
<path d="M59.6 227.9 59.6 221.6" stroke="#c69278" stroke-width="0.8" fill="none" stroke-linejoin="round"/>
<path d="M84.2 226.9 84.2 219.3" stroke="#c69278" stroke-width="0.8" fill="none" stroke-linejoin="round"/>
<path d="M87.5 227.6 87.5 219.3" stroke="#c69278" stroke-width="0.8" fill="none" stroke-linejoin="round"/>
<path d="M90.6 228.0 90.6 221.6" stroke="#c69278" stroke-width="0.8" fill="none" stroke-linejoin="round"/>
<path d="M94.0 228.3 94.0 225.4" stroke="#c69278" stroke-width="0.8" fill="none" stroke-linejoin="round"/>
<path d="M48.2 228.9 48.5 228.6 48.9 228.7 49.2 228.7 49.5 228.8 49.8 228.6 50.2 228.6 50.5 228.7 50.8 228.7 51.1 228.8 51.5 228.9 51.8 228.8 52.1 228.6 52.4 228.8 52.8 228.5 53.1 228.7 53.4 228.6 53.7 228.7 54.1 228.3 54.4 228.3 54.7 228.3 55.0 228.3 55.4 228.5 55.7 228.4 56.0 228.3 56.3 228.4 56.7 228.0 57.0 228.2 57.3 228.3 57.7 228.0 58.0 228.2 58.3 227.9 58.6 228.0 59.0 228.0 59.3 228.0 59.6 227.9 59.9 228.0 60.3 228.0 60.6 227.6 60.9 227.9 61.2 227.6 61.6 227.8 61.9 227.4 62.2 227.4 62.5 227.4 62.9 227.3 63.2 227.3 63.5 227.2 63.8 227.4 64.2 227.2 64.5 226.9 64.8 227.1 65.1 226.7 65.5 226.6 65.8 226.7 66.1 226.6 66.4 226.4 66.8 226.3 67.1 225.9 67.4 226.0 67.7 226.0 68.1 225.8 68.4 225.3 68.7 225.0 69.0 225.0 69.4 224.8 69.7 224.6 70.0 224.3 70.3 224.3 70.7 224.0 71.0 223.8 71.3 223.6 71.6 223.6 72.0 223.4 72.3 223.2 72.6 222.8 72.9 222.9 73.3 222.7 73.6 222.7 73.9 222.7 74.2 222.6 74.6 222.3 74.9 222.3 75.2 222.5 75.6 222.5 75.9 222.6 76.2 222.6 76.5 222.7 76.9 223.1 77.2 223.0 77.5 223.2 77.8 223.5 78.2 223.6 78.5 223.9 78.8 224.2 79.1 224.4 79.5 224.4 79.8 224.9 80.1 225.1 80.4 225.0 80.8 225.2 81.1 225.5 81.4 225.5 81.7 226.0 82.1 226.1 82.4 226.3 82.7 226.3 83.0 226.6 83.4 226.8 83.7 226.8 84.0 226.7 84.3 226.7 84.7 226.9 85.0 227.1 85.3 227.3 85.6 227.1 86.0 227.3 86.3 227.3 86.6 227.7 86.9 227.6 87.3 227.4 87.6 227.5 87.9 227.5 88.2 227.7 88.6 227.8 88.9 227.8 89.2 227.7 89.5 228.0 89.9 227.9 90.2 228.0 90.5 227.9 90.8 228.2 91.2 228.0 91.5 227.9 91.8 228.3 92.2 228.1 92.5 228.1 92.8 228.1 93.1 228.2 93.5 228.4 93.8 228.4 94.1 228.2 94.4 228.2 94.8 228.6 95.1 228.6 95.4 228.7 95.7 228.7 96.1 228.6 96.4 228.7 96.7 228.5 97.0 228.6 97.4 228.8 97.7 228.7 98.0 228.8 98.3 228.7 98.7 228.8 99.0 228.9 99.3 228.9 99.6 228.8 100.0 228.6 100.3 228.7" stroke="#6e3416" stroke-width="0.55" fill="none" stroke-linejoin="round"/>
<path d="M62.8 227.5 62.8 218.3" stroke="#6e3416" stroke-width="0.95" fill="none" stroke-linejoin="round"/>
<path d="M66.0 226.6 66.0 215.1" stroke="#6e3416" stroke-width="0.95" fill="none" stroke-linejoin="round"/>
<path d="M69.0 225.1 69.0 210.7" stroke="#6e3416" stroke-width="0.95" fill="none" stroke-linejoin="round"/>
<path d="M71.9 223.3 71.9 208.2" stroke="#6e3416" stroke-width="0.95" fill="none" stroke-linejoin="round"/>
<path d="M74.8 222.4 74.8 205.9" stroke="#6e3416" stroke-width="0.95" fill="none" stroke-linejoin="round"/>
<path d="M78.0 223.6 78.0 207.7" stroke="#6e3416" stroke-width="0.95" fill="none" stroke-linejoin="round"/>
<path d="M81.0 225.5 81.0 211.5" stroke="#6e3416" stroke-width="0.95" fill="none" stroke-linejoin="round"/>
</svg>
<rect x="179.30" y="243.40" width="48.30" height="29.20" fill="#fff" stroke="#a0a0a0" stroke-width="0.6"/>
<line x1="186.78" y1="272.60" x2="186.78" y2="271.60" stroke="#999" stroke-width="0.4" />
<line x1="186.78" y1="243.40" x2="186.78" y2="244.40" stroke="#999" stroke-width="0.4" />
<text x="186.78" y="278.30" font-size="4.75" fill="#2a2a2a" text-anchor="middle" font-weight="normal" >176</text>
<line x1="203.04" y1="272.60" x2="203.04" y2="271.60" stroke="#999" stroke-width="0.4" />
<line x1="203.04" y1="243.40" x2="203.04" y2="244.40" stroke="#999" stroke-width="0.4" />
<text x="203.04" y="278.30" font-size="4.75" fill="#2a2a2a" text-anchor="middle" font-weight="normal" >178</text>
<line x1="219.31" y1="272.60" x2="219.31" y2="271.60" stroke="#999" stroke-width="0.4" />
<line x1="219.31" y1="243.40" x2="219.31" y2="244.40" stroke="#999" stroke-width="0.4" />
<text x="219.31" y="278.30" font-size="4.75" fill="#2a2a2a" text-anchor="middle" font-weight="normal" >180</text>
<line x1="179.30" y1="249.04" x2="180.30" y2="249.04" stroke="#999" stroke-width="0.4" />
<line x1="227.60" y1="249.04" x2="226.60" y2="249.04" stroke="#999" stroke-width="0.4" />
<text x="177.10" y="250.69" font-size="4.75" fill="#2a2a2a" text-anchor="end" font-weight="normal" >2</text>
<line x1="179.30" y1="258.75" x2="180.30" y2="258.75" stroke="#999" stroke-width="0.4" />
<line x1="227.60" y1="258.75" x2="226.60" y2="258.75" stroke="#999" stroke-width="0.4" />
<text x="177.10" y="260.40" font-size="4.75" fill="#2a2a2a" text-anchor="end" font-weight="normal" >0</text>
<line x1="179.30" y1="268.47" x2="180.30" y2="268.47" stroke="#999" stroke-width="0.4" />
<line x1="227.60" y1="268.47" x2="226.60" y2="268.47" stroke="#999" stroke-width="0.4" />
<text x="177.10" y="270.12" font-size="4.75" fill="#2a2a2a" text-anchor="end" font-weight="normal" >−2</text>
<svg x="179.30" y="243.40" width="48.30" height="29.20" viewBox="179.30 243.40 48.30 29.20" overflow="hidden">
<path d="M182.3 267.6 182.3 265.1" stroke="#c69278" stroke-width="0.8" fill="none" stroke-linejoin="round"/>
<path d="M188.7 267.0 188.7 259.0" stroke="#c69278" stroke-width="0.8" fill="none" stroke-linejoin="round"/>
<path d="M191.9 266.6 191.9 255.8" stroke="#c69278" stroke-width="0.8" fill="none" stroke-linejoin="round"/>
<path d="M195.1 265.8 195.1 253.2" stroke="#c69278" stroke-width="0.8" fill="none" stroke-linejoin="round"/>
<path d="M213.3 266.0 213.3 255.0" stroke="#c69278" stroke-width="0.8" fill="none" stroke-linejoin="round"/>
<path d="M216.5 266.7 216.5 256.6" stroke="#c69278" stroke-width="0.8" fill="none" stroke-linejoin="round"/>
<path d="M220.0 267.1 220.0 258.8" stroke="#c69278" stroke-width="0.8" fill="none" stroke-linejoin="round"/>
<path d="M222.9 267.4 222.9 261.9" stroke="#c69278" stroke-width="0.8" fill="none" stroke-linejoin="round"/>
<path d="M177.8 267.6 178.2 267.9 178.5 267.9 178.8 267.5 179.1 267.9 179.4 267.9 179.8 267.7 180.1 267.8 180.4 267.6 180.7 267.8 181.0 267.6 181.4 267.8 181.7 267.6 182.0 267.5 182.3 267.6 182.6 267.4 183.0 267.5 183.3 267.7 183.6 267.4 183.9 267.4 184.2 267.5 184.6 267.5 184.9 267.2 185.2 267.3 185.5 267.1 185.8 267.2 186.2 267.1 186.5 267.2 186.8 267.1 187.1 267.1 187.4 267.2 187.8 266.9 188.1 267.1 188.4 266.9 188.7 266.8 189.0 266.9 189.4 267.1 189.7 266.8 190.0 266.8 190.3 266.9 190.6 266.9 191.0 266.7 191.3 266.9 191.6 266.5 191.9 266.6 192.2 266.5 192.6 266.5 192.9 266.3 193.2 266.1 193.5 266.3 193.8 266.2 194.2 266.0 194.5 266.0 194.8 265.8 195.1 265.7 195.4 265.7 195.8 265.4 196.1 265.4 196.4 265.4 196.7 264.9 197.0 265.0 197.4 264.8 197.7 264.6 198.0 264.2 198.3 264.0 198.6 264.0 199.0 263.9 199.3 263.8 199.6 263.3 199.9 263.4 200.2 263.0 200.6 262.9 200.9 262.8 201.2 262.6 201.5 262.5 201.8 262.4 202.2 262.1 202.5 261.9 202.8 261.8 203.1 261.9 203.4 261.6 203.8 261.9 204.1 261.7 204.4 261.6 204.7 261.7 205.1 261.9 205.4 261.9 205.7 262.1 206.0 262.3 206.3 262.4 206.7 262.4 207.0 262.7 207.3 263.0 207.6 263.0 207.9 263.3 208.3 263.6 208.6 263.6 208.9 263.8 209.2 264.1 209.5 264.1 209.9 264.7 210.2 264.6 210.5 264.8 210.8 265.0 211.1 265.3 211.5 265.2 211.8 265.5 212.1 265.7 212.4 265.9 212.7 265.6 213.1 266.0 213.4 266.2 213.7 266.2 214.0 266.3 214.3 266.1 214.7 266.5 215.0 266.5 215.3 266.6 215.6 266.5 215.9 266.7 216.3 266.7 216.6 266.6 216.9 266.6 217.2 266.7 217.5 267.0 217.9 266.9 218.2 266.8 218.5 267.1 218.8 267.1 219.1 267.0 219.5 267.1 219.8 267.0 220.1 267.0 220.4 267.2 220.7 267.3 221.1 267.3 221.4 267.3 221.7 267.4 222.0 267.2 222.3 267.5 222.7 267.2 223.0 267.3 223.3 267.6 223.6 267.5 223.9 267.4 224.3 267.7 224.6 267.6 224.9 267.8 225.2 267.5 225.5 267.8 225.9 267.6 226.2 267.5 226.5 267.6 226.8 267.8 227.1 267.7 227.5 267.9 227.8 267.8 228.1 267.6 228.4 267.6 228.7 267.9 229.1 267.8" stroke="#6e3416" stroke-width="0.55" fill="none" stroke-linejoin="round"/>
<path d="M185.5 267.3 185.5 261.9" stroke="#6e3416" stroke-width="0.95" fill="none" stroke-linejoin="round"/>
<path d="M198.2 264.2 198.2 250.0" stroke="#6e3416" stroke-width="0.95" fill="none" stroke-linejoin="round"/>
<path d="M201.2 262.5 201.2 248.1" stroke="#6e3416" stroke-width="0.95" fill="none" stroke-linejoin="round"/>
<path d="M204.0 261.7 204.0 245.9" stroke="#6e3416" stroke-width="0.95" fill="none" stroke-linejoin="round"/>
<path d="M207.1 262.8 207.1 246.6" stroke="#6e3416" stroke-width="0.95" fill="none" stroke-linejoin="round"/>
<path d="M210.1 264.6 210.1 250.0" stroke="#6e3416" stroke-width="0.95" fill="none" stroke-linejoin="round"/>
<path d="M196.8 265.0 196.9 272.4 197.2 265.0" stroke="#6e3416" stroke-width="0.55" fill="none" stroke-linejoin="round"/>
</svg>
<rect x="240.40" y="243.60" width="48.90" height="29.20" fill="#fff" stroke="#a0a0a0" stroke-width="0.6"/>
<line x1="247.97" y1="272.80" x2="247.97" y2="271.80" stroke="#999" stroke-width="0.4" />
<line x1="247.97" y1="243.60" x2="247.97" y2="244.60" stroke="#999" stroke-width="0.4" />
<text x="247.97" y="278.50" font-size="4.75" fill="#2a2a2a" text-anchor="middle" font-weight="normal" >176</text>
<line x1="264.44" y1="272.80" x2="264.44" y2="271.80" stroke="#999" stroke-width="0.4" />
<line x1="264.44" y1="243.60" x2="264.44" y2="244.60" stroke="#999" stroke-width="0.4" />
<text x="264.44" y="278.50" font-size="4.75" fill="#2a2a2a" text-anchor="middle" font-weight="normal" >178</text>
<line x1="280.90" y1="272.80" x2="280.90" y2="271.80" stroke="#999" stroke-width="0.4" />
<line x1="280.90" y1="243.60" x2="280.90" y2="244.60" stroke="#999" stroke-width="0.4" />
<text x="280.90" y="278.50" font-size="4.75" fill="#2a2a2a" text-anchor="middle" font-weight="normal" >180</text>
<line x1="240.40" y1="249.24" x2="241.40" y2="249.24" stroke="#999" stroke-width="0.4" />
<line x1="289.30" y1="249.24" x2="288.30" y2="249.24" stroke="#999" stroke-width="0.4" />
<text x="238.20" y="250.89" font-size="4.75" fill="#2a2a2a" text-anchor="end" font-weight="normal" >2</text>
<line x1="240.40" y1="258.95" x2="241.40" y2="258.95" stroke="#999" stroke-width="0.4" />
<line x1="289.30" y1="258.95" x2="288.30" y2="258.95" stroke="#999" stroke-width="0.4" />
<text x="238.20" y="260.60" font-size="4.75" fill="#2a2a2a" text-anchor="end" font-weight="normal" >0</text>
<line x1="240.40" y1="268.67" x2="241.40" y2="268.67" stroke="#999" stroke-width="0.4" />
<line x1="289.30" y1="268.67" x2="288.30" y2="268.67" stroke="#999" stroke-width="0.4" />
<text x="238.20" y="270.32" font-size="4.75" fill="#2a2a2a" text-anchor="end" font-weight="normal" >−2</text>
<svg x="240.40" y="243.60" width="48.90" height="29.20" viewBox="240.40 243.60 48.90 29.20" overflow="hidden">
<path d="M243.4 267.8 243.4 264.8" stroke="#c69278" stroke-width="0.8" fill="none" stroke-linejoin="round"/>
<path d="M246.7 267.5 246.7 261.9" stroke="#c69278" stroke-width="0.8" fill="none" stroke-linejoin="round"/>
<path d="M249.9 267.2 249.9 259.0" stroke="#c69278" stroke-width="0.8" fill="none" stroke-linejoin="round"/>
<path d="M268.6 263.0 268.6 247.0" stroke="#c69278" stroke-width="0.8" fill="none" stroke-linejoin="round"/>
<path d="M271.8 264.9 271.8 250.0" stroke="#c69278" stroke-width="0.8" fill="none" stroke-linejoin="round"/>
<path d="M275.1 266.3 275.1 254.1" stroke="#c69278" stroke-width="0.8" fill="none" stroke-linejoin="round"/>
<path d="M287.5 267.9 287.5 263.8" stroke="#c69278" stroke-width="0.8" fill="none" stroke-linejoin="round"/>
<path d="M238.9 267.8 239.2 267.8 239.6 267.8 239.9 268.1 240.2 267.9 240.5 268.0 240.9 267.9 241.2 268.1 241.5 268.1 241.8 268.0 242.2 268.0 242.5 267.9 242.8 268.1 243.1 268.0 243.5 267.7 243.8 267.8 244.1 267.8 244.4 267.6 244.8 267.8 245.1 267.8 245.4 267.5 245.7 267.6 246.0 267.5 246.4 267.5 246.7 267.3 247.0 267.5 247.3 267.4 247.7 267.5 248.0 267.4 248.3 267.3 248.6 267.4 249.0 267.5 249.3 267.3 249.6 267.1 249.9 267.2 250.3 267.2 250.6 267.1 250.9 267.2 251.2 267.2 251.6 267.1 251.9 266.8 252.2 267.0 252.5 267.0 252.9 267.0 253.2 266.9 253.5 266.8 253.8 266.6 254.2 266.5 254.5 266.6 254.8 266.5 255.1 266.4 255.4 266.3 255.8 266.1 256.1 266.0 256.4 266.0 256.7 266.0 257.1 265.6 257.4 265.5 257.7 265.3 258.0 265.4 258.4 265.1 258.7 264.8 259.0 264.7 259.3 264.4 259.7 264.5 260.0 264.0 260.3 264.2 260.6 263.9 261.0 263.8 261.3 263.3 261.6 263.2 261.9 262.9 262.3 262.8 262.6 262.5 262.9 262.5 263.2 262.2 263.6 262.2 263.9 262.2 264.2 261.9 264.5 262.0 264.9 262.0 265.2 262.0 265.5 261.9 265.8 262.1 266.1 261.9 266.5 261.9 266.8 262.3 267.1 262.5 267.4 262.5 267.8 262.8 268.1 262.8 268.4 262.8 268.7 263.2 269.1 263.4 269.4 263.4 269.7 263.7 270.0 264.0 270.4 264.0 270.7 264.2 271.0 264.3 271.3 264.6 271.7 264.9 272.0 264.9 272.3 265.1 272.6 265.3 273.0 265.6 273.3 265.7 273.6 265.8 273.9 265.8 274.3 266.0 274.6 266.1 274.9 266.1 275.2 266.5 275.5 266.3 275.9 266.5 276.2 266.5 276.5 266.5 276.8 266.8 277.2 266.6 277.5 267.0 277.8 266.8 278.1 266.9 278.5 267.0 278.8 267.0 279.1 267.0 279.4 267.1 279.8 267.0 280.1 267.3 280.4 267.2 280.7 267.1 281.1 267.4 281.4 267.1 281.7 267.4 282.0 267.3 282.4 267.5 282.7 267.4 283.0 267.5 283.3 267.6 283.7 267.4 284.0 267.5 284.3 267.5 284.6 267.6 284.9 267.6 285.3 267.6 285.6 267.8 285.9 267.6 286.2 267.9 286.6 267.6 286.9 267.7 287.2 267.8 287.5 267.8 287.9 267.8 288.2 267.9 288.5 268.0 288.8 268.0 289.2 268.0 289.5 268.0 289.8 267.8 290.1 268.0 290.5 268.0 290.8 268.0" stroke="#6e3416" stroke-width="0.55" fill="none" stroke-linejoin="round"/>
<path d="M253.4 266.7 253.4 255.8" stroke="#6e3416" stroke-width="0.95" fill="none" stroke-linejoin="round"/>
<path d="M256.4 266.0 256.4 252.9" stroke="#6e3416" stroke-width="0.95" fill="none" stroke-linejoin="round"/>
<path d="M259.6 264.4 259.6 249.2" stroke="#6e3416" stroke-width="0.95" fill="none" stroke-linejoin="round"/>
<path d="M262.5 262.7 262.5 247.3" stroke="#6e3416" stroke-width="0.95" fill="none" stroke-linejoin="round"/>
<path d="M265.7 261.9 265.7 246.1" stroke="#6e3416" stroke-width="0.95" fill="none" stroke-linejoin="round"/>
<path d="M278.3 266.9 278.3 257.3" stroke="#6e3416" stroke-width="0.95" fill="none" stroke-linejoin="round"/>
<path d="M281.6 267.3 281.6 258.5" stroke="#6e3416" stroke-width="0.95" fill="none" stroke-linejoin="round"/>
<path d="M284.5 267.6 284.5 260.4" stroke="#6e3416" stroke-width="0.95" fill="none" stroke-linejoin="round"/>
<path d="M284.4 267.6 284.5 271.8 284.8 267.6" stroke="#6e3416" stroke-width="0.55" fill="none" stroke-linejoin="round"/>
</svg>
<line x1="60.30" y1="269.20" x2="68.90" y2="242.10" stroke="#8a553d" stroke-width="0.85" />
<line x1="229.90" y1="195.10" x2="207.00" y2="222.60" stroke="#8a553d" stroke-width="0.85" />
<line x1="272.00" y1="202.30" x2="264.00" y2="223.30" stroke="#8a553d" stroke-width="0.85" />
<circle cx="59.40" cy="274.70" r="1.55" fill="#3b58a8"/>
<circle cx="59.40" cy="276.00" r="1.55" fill="#e63462"/>
<circle cx="78.70" cy="258.50" r="1.55" fill="#3b58a8"/>
<circle cx="78.70" cy="256.60" r="1.55" fill="#e63462"/>
<circle cx="98.00" cy="246.20" r="1.55" fill="#3b58a8"/>
<circle cx="98.00" cy="242.60" r="1.55" fill="#e63462"/>
<circle cx="117.30" cy="231.50" r="1.55" fill="#3b58a8"/>
<circle cx="117.30" cy="229.00" r="1.55" fill="#e63462"/>
<circle cx="136.60" cy="220.70" r="1.55" fill="#3b58a8"/>
<circle cx="136.60" cy="216.80" r="1.55" fill="#e63462"/>
<circle cx="155.90" cy="209.80" r="1.55" fill="#3b58a8"/>
<circle cx="155.90" cy="205.50" r="1.55" fill="#e63462"/>
<circle cx="175.20" cy="202.60" r="1.55" fill="#3b58a8"/>
<circle cx="175.20" cy="198.40" r="1.55" fill="#e63462"/>
<circle cx="194.50" cy="195.90" r="1.55" fill="#3b58a8"/>
<circle cx="194.50" cy="194.10" r="1.55" fill="#e63462"/>
<circle cx="213.80" cy="192.00" r="1.55" fill="#3b58a8"/>
<circle cx="213.80" cy="192.00" r="1.55" fill="#e63462"/>
<circle cx="233.10" cy="190.60" r="1.55" fill="#3b58a8"/>
<circle cx="233.10" cy="192.20" r="1.55" fill="#e63462"/>
<circle cx="252.40" cy="193.70" r="1.55" fill="#3b58a8"/>
<circle cx="252.40" cy="193.70" r="1.55" fill="#e63462"/>
<circle cx="271.70" cy="200.70" r="1.55" fill="#3b58a8"/>
<circle cx="271.70" cy="200.70" r="1.55" fill="#e63462"/>
<text x="59.50" y="192.80" font-size="4.75" fill="#e63462"><tspan font-style="italic">A</tspan><tspan font-size="3.6" dy="1.0">z</tspan><tspan dy="-1.0">: 270.51 nm</tspan></text>
<text x="59.50" y="199.00" font-size="4.75" fill="#3b58a8"><tspan font-style="italic">γ</tspan><tspan font-size="3.6" dy="1.2">ex</tspan><tspan dy="-1.2">: 380.77 Hz</tspan></text>
<text x="189.30" y="231.90" font-size="4.75" fill="#e63462"><tspan font-style="italic">A</tspan><tspan font-size="3.6" dy="1.0">z</tspan><tspan dy="-1.0">: 300.03 nm</tspan></text>
<text x="189.30" y="238.10" font-size="4.75" fill="#3b58a8"><tspan font-style="italic">γ</tspan><tspan font-size="3.6" dy="1.2">ex</tspan><tspan dy="-1.2">: 385.39 Hz</tspan></text>
<text x="250.40" y="231.90" font-size="4.75" fill="#e63462"><tspan font-style="italic">A</tspan><tspan font-size="3.6" dy="1.0">z</tspan><tspan dy="-1.0">: 296.74 nm</tspan></text>
<text x="250.40" y="238.10" font-size="4.75" fill="#3b58a8"><tspan font-style="italic">γ</tspan><tspan font-size="3.6" dy="1.2">ex</tspan><tspan dy="-1.2">: 384.85 Hz</tspan></text>
<text x="346.60" y="174.40" font-size="15" fill="#111" text-anchor="start" font-weight="bold" >d</text>
<text x="388.40" y="176.30" font-size="7.3" fill="#2e2e2e" text-anchor="start" font-weight="bold" >Device B</text>
<text x="428.90" y="176.30" font-size="7.3" fill="#2e2e2e" font-weight="bold">50V<tspan font-size="4.6" dy="1.7" letter-spacing="-0.25">dc</tspan><tspan dy="-1.7"> 24V</tspan><tspan font-size="4.6" dy="1.7" letter-spacing="-0.25">ac</tspan></text>
<text x="641.50" y="177.00" font-size="7.4" fill="#222" font-weight="bold" text-anchor="end"><tspan font-size="9" font-style="italic">α</tspan><tspan font-size="4.6" dy="1.6" font-style="italic">B</tspan><tspan dy="-1.6"> = 0.3155</tspan></text>
<line x1="390.40" y1="181.20" x2="642.80" y2="181.20" stroke="#8c8c8c" stroke-width="0.9" />
<line x1="390.40" y1="286.50" x2="642.80" y2="286.50" stroke="#8c8c8c" stroke-width="0.9" />
<line x1="390.40" y1="181.20" x2="390.40" y2="286.50" stroke="#a9b6dc" stroke-width="0.9" />
<line x1="642.80" y1="181.20" x2="642.80" y2="286.50" stroke="#eea6ba" stroke-width="0.9" />
<line x1="396.40" y1="286.50" x2="396.40" y2="288.80" stroke="#8c8c8c" stroke-width="0.6" />
<text x="396.40" y="298.10" font-size="7.35" fill="#3a3a3a" text-anchor="middle" font-weight="normal" >51.030</text>
<line x1="425.00" y1="286.50" x2="425.00" y2="288.80" stroke="#8c8c8c" stroke-width="0.6" />
<text x="425.00" y="298.10" font-size="7.35" fill="#3a3a3a" text-anchor="middle" font-weight="normal" >51.035</text>
<line x1="453.60" y1="286.50" x2="453.60" y2="288.80" stroke="#8c8c8c" stroke-width="0.6" />
<text x="453.60" y="298.10" font-size="7.35" fill="#3a3a3a" text-anchor="middle" font-weight="normal" >51.040</text>
<line x1="482.20" y1="286.50" x2="482.20" y2="288.80" stroke="#8c8c8c" stroke-width="0.6" />
<text x="482.20" y="298.10" font-size="7.35" fill="#3a3a3a" text-anchor="middle" font-weight="normal" >51.045</text>
<line x1="510.80" y1="286.50" x2="510.80" y2="288.80" stroke="#8c8c8c" stroke-width="0.6" />
<text x="510.80" y="298.10" font-size="7.35" fill="#3a3a3a" text-anchor="middle" font-weight="normal" >51.050</text>
<line x1="539.40" y1="286.50" x2="539.40" y2="288.80" stroke="#8c8c8c" stroke-width="0.6" />
<text x="539.40" y="298.10" font-size="7.35" fill="#3a3a3a" text-anchor="middle" font-weight="normal" >51.055</text>
<line x1="568.00" y1="286.50" x2="568.00" y2="288.80" stroke="#8c8c8c" stroke-width="0.6" />
<text x="568.00" y="298.10" font-size="7.35" fill="#3a3a3a" text-anchor="middle" font-weight="normal" >51.060</text>
<line x1="596.60" y1="286.50" x2="596.60" y2="288.80" stroke="#8c8c8c" stroke-width="0.6" />
<text x="596.60" y="298.10" font-size="7.35" fill="#3a3a3a" text-anchor="middle" font-weight="normal" >51.065</text>
<line x1="625.20" y1="286.50" x2="625.20" y2="288.80" stroke="#8c8c8c" stroke-width="0.6" />
<text x="625.20" y="298.10" font-size="7.35" fill="#3a3a3a" text-anchor="middle" font-weight="normal" >51.070</text>
<line x1="387.80" y1="275.60" x2="390.40" y2="275.60" stroke="#3b58a8" stroke-width="0.6" />
<text x="385.40" y="278.20" font-size="7.35" fill="#3b58a8" text-anchor="end" font-weight="normal" >3070</text>
<line x1="387.80" y1="256.75" x2="390.40" y2="256.75" stroke="#3b58a8" stroke-width="0.6" />
<text x="385.40" y="259.35" font-size="7.35" fill="#3b58a8" text-anchor="end" font-weight="normal" >3100</text>
<line x1="387.80" y1="237.90" x2="390.40" y2="237.90" stroke="#3b58a8" stroke-width="0.6" />
<text x="385.40" y="240.50" font-size="7.35" fill="#3b58a8" text-anchor="end" font-weight="normal" >3130</text>
<line x1="387.80" y1="219.05" x2="390.40" y2="219.05" stroke="#3b58a8" stroke-width="0.6" />
<text x="385.40" y="221.65" font-size="7.35" fill="#3b58a8" text-anchor="end" font-weight="normal" >3160</text>
<line x1="387.80" y1="200.20" x2="390.40" y2="200.20" stroke="#3b58a8" stroke-width="0.6" />
<text x="385.40" y="202.80" font-size="7.35" fill="#3b58a8" text-anchor="end" font-weight="normal" >3190</text>
<line x1="387.80" y1="181.35" x2="390.40" y2="181.35" stroke="#3b58a8" stroke-width="0.6" />
<text x="385.40" y="183.95" font-size="7.35" fill="#3b58a8" text-anchor="end" font-weight="normal" >3220</text>
<line x1="642.80" y1="274.80" x2="645.40" y2="274.80" stroke="#e63462" stroke-width="0.6" />
<text x="648.80" y="277.70" font-size="7.35" fill="#e63462" text-anchor="start" font-weight="normal" >1080</text>
<line x1="642.80" y1="259.47" x2="645.40" y2="259.47" stroke="#e63462" stroke-width="0.6" />
<text x="648.80" y="262.37" font-size="7.35" fill="#e63462" text-anchor="start" font-weight="normal" >1090</text>
<line x1="642.80" y1="244.14" x2="645.40" y2="244.14" stroke="#e63462" stroke-width="0.6" />
<text x="648.80" y="247.04" font-size="7.35" fill="#e63462" text-anchor="start" font-weight="normal" >1100</text>
<line x1="642.80" y1="228.81" x2="645.40" y2="228.81" stroke="#e63462" stroke-width="0.6" />
<text x="648.80" y="231.71" font-size="7.35" fill="#e63462" text-anchor="start" font-weight="normal" >1110</text>
<line x1="642.80" y1="213.48" x2="645.40" y2="213.48" stroke="#e63462" stroke-width="0.6" />
<text x="648.80" y="216.38" font-size="7.35" fill="#e63462" text-anchor="start" font-weight="normal" >1120</text>
<line x1="642.80" y1="198.15" x2="645.40" y2="198.15" stroke="#e63462" stroke-width="0.6" />
<text x="648.80" y="201.05" font-size="7.35" fill="#e63462" text-anchor="start" font-weight="normal" >1130</text>
<line x1="642.80" y1="182.82" x2="645.40" y2="182.82" stroke="#e63462" stroke-width="0.6" />
<text x="648.80" y="185.72" font-size="7.35" fill="#e63462" text-anchor="start" font-weight="normal" >1140</text>
<text x="516.60" y="308.20" font-size="7.42" fill="#333" text-anchor="middle" font-weight="normal" >Driving frequency (kHz)</text>
<text transform="translate(352.60,234.35) rotate(-90)" font-size="7.5" fill="#3b58a8" text-anchor="middle">Energy exchange</text>
<text transform="translate(361.40,236.35) rotate(-90)" font-size="7.5" fill="#3b58a8" text-anchor="middle">rate <tspan font-style="italic">γ</tspan><tspan font-size="4.3" dy="1.2">ex</tspan><tspan dy="-1.2"> (Hz)</tspan></text>
<text transform="translate(680.40,234.55) rotate(90)" font-size="7.55" fill="#e63462" text-anchor="middle">Torsional mode amplitude</text>
<text transform="translate(671.00,234.95) rotate(90)" font-size="7.55" fill="#e63462" text-anchor="middle"><tspan font-style="italic">A</tspan><tspan font-size="4.3" dy="1.2">z</tspan><tspan dy="-1.2"> (nm)</tspan></text>
<rect x="398.20" y="205.20" width="49.50" height="29.90" fill="#fff" stroke="#a0a0a0" stroke-width="0.6"/>
<line x1="402.58" y1="235.10" x2="402.58" y2="234.10" stroke="#999" stroke-width="0.4" />
<line x1="402.58" y1="205.20" x2="402.58" y2="206.20" stroke="#999" stroke-width="0.4" />
<text x="402.58" y="240.80" font-size="4.75" fill="#2a2a2a" text-anchor="middle" font-weight="normal" >140</text>
<line x1="418.58" y1="235.10" x2="418.58" y2="234.10" stroke="#999" stroke-width="0.4" />
<line x1="418.58" y1="205.20" x2="418.58" y2="206.20" stroke="#999" stroke-width="0.4" />
<text x="418.58" y="240.80" font-size="4.75" fill="#2a2a2a" text-anchor="middle" font-weight="normal" >150</text>
<line x1="434.58" y1="235.10" x2="434.58" y2="234.10" stroke="#999" stroke-width="0.4" />
<line x1="434.58" y1="205.20" x2="434.58" y2="206.20" stroke="#999" stroke-width="0.4" />
<text x="434.58" y="240.80" font-size="4.75" fill="#2a2a2a" text-anchor="middle" font-weight="normal" >160</text>
<line x1="398.20" y1="205.83" x2="399.20" y2="205.83" stroke="#999" stroke-width="0.4" />
<line x1="447.70" y1="205.83" x2="446.70" y2="205.83" stroke="#999" stroke-width="0.4" />
<text x="396.00" y="207.48" font-size="4.75" fill="#2a2a2a" text-anchor="end" font-weight="normal" >4</text>
<line x1="398.20" y1="214.19" x2="399.20" y2="214.19" stroke="#999" stroke-width="0.4" />
<line x1="447.70" y1="214.19" x2="446.70" y2="214.19" stroke="#999" stroke-width="0.4" />
<text x="396.00" y="215.84" font-size="4.75" fill="#2a2a2a" text-anchor="end" font-weight="normal" >2</text>
<line x1="398.20" y1="222.55" x2="399.20" y2="222.55" stroke="#999" stroke-width="0.4" />
<line x1="447.70" y1="222.55" x2="446.70" y2="222.55" stroke="#999" stroke-width="0.4" />
<text x="396.00" y="224.20" font-size="4.75" fill="#2a2a2a" text-anchor="end" font-weight="normal" >0</text>
<line x1="398.20" y1="230.92" x2="399.20" y2="230.92" stroke="#999" stroke-width="0.4" />
<line x1="447.70" y1="230.92" x2="446.70" y2="230.92" stroke="#999" stroke-width="0.4" />
<text x="396.00" y="232.57" font-size="4.75" fill="#2a2a2a" text-anchor="end" font-weight="normal" >−2</text>
<svg x="398.20" y="205.20" width="49.50" height="29.90" viewBox="398.20 205.20 49.50 29.90" overflow="hidden">
<path d="M397.8 230.1 397.9 230.1 397.9 230.0 398.0 230.0 398.1 230.0 398.2 230.0 398.3 230.0 398.3 230.0 398.4 230.0 398.5 230.0 398.6 229.9 398.7 229.9 398.7 229.9 398.8 229.9 398.9 229.9 399.0 229.9 399.1 229.8 399.1 229.8 399.2 229.8 399.3 229.8 399.4 229.8 399.5 229.7 399.5 229.7 399.6 229.7 399.7 229.7 399.8 229.7 399.9 229.6 399.9 229.6 400.0 229.6 400.1 229.6 400.2 229.6 400.3 229.5 400.3 229.5 400.4 229.5 400.5 229.5 400.6 229.5 400.7 229.4 400.7 229.4 400.8 229.4 400.9 229.4 401.0 229.4 401.1 229.4 401.1 229.3 401.2 229.3 401.3 229.3 401.4 229.3 401.5 229.3 401.5 229.3 401.6 229.3 401.7 229.3 401.8 229.3 401.9 229.3 401.9 229.3 402.0 229.3 402.1 229.2 402.2 229.2 402.3 223.6 402.3 212.3 402.3 215.2 402.4 220.7 402.4 224.6 402.5 225.5 402.6 225.9 402.7 226.1 402.7 226.3 402.8 226.4 402.9 226.6 403.0 226.7 403.1 226.8 403.1 226.9 403.2 227.1 403.3 227.2 403.4 227.3 403.5 227.4 403.5 227.5 403.6 227.6 403.7 227.7 403.8 227.8 403.9 227.9 403.9 228.0 404.0 228.0 404.1 228.1 404.2 228.2 404.3 228.3 404.3 228.4 404.4 228.4 404.5 228.5 404.6 228.6 404.7 228.6 404.7 228.7 404.8 228.8 404.9 228.8 405.0 228.9 405.1 228.9 405.1 229.0 405.2 229.1 405.3 229.1 405.4 229.2 405.5 229.2 405.5 229.3 405.6 229.3 405.7 229.3 405.8 229.4 405.9 229.4 405.9 229.5 406.0 229.5 406.1 229.5 406.2 229.6 406.3 229.6 406.3 229.6 406.4 229.7 406.5 229.7 406.6 229.7 406.7 229.7 406.7 229.8 406.8 229.8 406.9 229.8 407.0 229.8 407.1 229.8 407.1 229.8 407.2 229.8 407.3 229.9 407.4 229.9 407.5 229.9 407.5 229.9 407.6 229.9 407.7 224.0 407.7 221.0 407.8 212.1 407.8 217.6 407.8 224.4 407.9 225.5 407.9 226.4 408.0 226.7 408.1 226.9 408.2 227.1 408.3 227.2 408.3 227.3 408.4 227.4 408.5 227.5 408.6 227.6 408.7 227.7 408.7 227.8 408.8 227.9 408.9 227.9 409.0 228.0 409.1 228.1 409.1 228.1 409.2 228.2 409.3 228.2 409.4 228.3 409.5 228.3 409.5 228.4 409.6 228.4 409.7 228.4 409.8 228.5 409.9 228.5 409.9 228.5 410.0 228.6 410.1 228.6 410.2 228.6 410.3 228.6 410.3 228.7 410.4 228.7 410.5 228.7 410.6 228.7 410.7 228.7 410.7 228.7 410.8 228.8 410.9 228.8 411.0 228.8 411.1 228.8 411.1 228.8 411.2 228.8 411.3 228.8 411.4 228.8 411.5 228.8 411.5 228.9 411.6 228.9 411.7 228.9 411.8 228.9 411.9 228.9 411.9 228.9 412.0 228.9 412.1 228.9 412.2 228.9 412.3 229.0 412.3 229.0 412.4 229.0 412.5 229.0 412.6 229.0 412.7 229.0 412.7 229.0 412.8 229.1 412.9 229.1 413.0 229.1 413.1 229.1 413.1 229.1 413.2 227.0 413.2 224.8 413.3 216.2 413.4 224.5 413.4 224.8 413.5 225.6 413.5 226.0 413.6 226.2 413.7 226.4 413.8 226.5 413.9 226.7 413.9 226.8 414.0 227.0 414.1 227.1 414.2 227.2 414.3 227.3 414.3 227.5 414.4 227.6 414.5 227.7 414.6 227.8 414.7 227.9 414.7 228.0 414.8 228.1 414.9 228.2 415.0 228.3 415.1 228.3 415.1 228.4 415.2 228.5 415.3 228.6 415.4 228.7 415.5 228.7 415.5 228.8 415.6 228.9 415.7 228.9 415.8 229.0 415.9 229.0 415.9 229.1 416.0 229.1 416.1 229.2 416.2 229.2 416.3 229.3 416.3 229.3 416.4 229.4 416.5 229.4 416.6 229.5 416.7 229.5 416.7 229.5 416.8 229.6 416.9 229.6 417.0 229.6 417.1 229.6 417.1 229.7 417.2 229.7 417.3 229.7 417.4 229.7 417.5 229.7 417.5 229.7 417.6 229.8 417.7 229.8 417.8 229.8 417.9 229.8 417.9 229.8 418.0 229.8 418.1 229.8 418.2 229.8 418.3 229.8 418.3 229.8 418.4 223.9 418.4 218.0 418.5 212.1 418.5 219.5 418.5 224.3 418.6 225.6 418.7 226.2 418.7 226.5 418.8 226.7 418.9 227.0 419.0 227.1 419.1 227.2 419.1 227.3 419.2 227.4 419.3 227.5 419.4 227.6 419.5 227.6 419.5 227.7 419.6 227.8 419.7 227.9 419.8 227.9 419.9 228.0 419.9 228.0 420.0 228.1 420.1 228.1 420.2 228.2 420.3 228.2 420.3 228.3 420.4 228.3 420.5 228.3 420.6 228.4 420.7 228.4 420.7 228.4 420.8 228.4 420.9 228.5 421.0 228.5 421.1 228.5 421.1 228.5 421.2 228.6 421.3 228.6 421.4 228.6 421.5 228.6 421.5 228.6 421.6 228.7 421.7 228.7 421.8 228.7 421.9 228.7 421.9 228.7 422.0 228.8 422.1 228.8 422.2 228.8 422.3 228.8 422.3 228.8 422.4 228.9 422.5 228.9 422.6 228.9 422.7 228.9 422.7 228.9 422.8 228.9 422.9 229.0 423.0 229.0 423.1 229.0 423.1 229.0 423.2 229.1 423.3 229.1 423.4 229.1 423.5 229.1 423.5 225.9 423.6 222.6 423.6 209.4 423.7 219.6 423.7 224.0 423.8 225.3 423.9 225.8 423.9 226.1 424.0 226.3 424.1 226.6 424.2 226.7 424.3 226.9 424.3 227.0 424.4 227.2 424.5 227.3 424.6 227.4 424.7 227.5 424.7 227.6 424.8 227.7 424.9 227.8 425.0 228.0 425.1 228.0 425.1 228.1 425.2 228.2 425.3 228.3 425.4 228.4 425.5 228.5 425.5 228.6 425.6 228.6 425.7 228.7 425.8 228.8 425.9 228.8 425.9 228.9 426.0 229.0 426.1 229.0 426.2 229.1 426.3 229.1 426.3 229.2 426.4 229.2 426.5 229.3 426.6 229.3 426.7 229.4 426.7 229.4 426.8 229.4 426.9 229.5 427.0 229.5 427.1 229.5 427.1 229.6 427.2 229.6 427.3 229.6 427.4 229.6 427.5 229.7 427.5 229.7 427.6 229.7 427.7 229.7 427.8 229.7 427.9 229.7 427.9 229.7 428.0 229.7 428.1 229.7 428.2 229.8 428.3 229.8 428.3 229.8 428.4 229.8 428.5 229.8 428.6 229.7 428.7 229.7 428.7 229.7 428.8 229.7 428.9 229.7 429.0 229.7 429.1 229.7 429.1 229.7 429.2 229.8 429.3 229.8 429.3 224.0 429.4 218.3 429.4 212.5 429.5 219.7 429.5 221.1 429.5 225.6 429.6 226.2 429.7 226.5 429.8 226.6 429.9 226.8 429.9 226.9 430.0 227.0 430.1 227.1 430.2 227.2 430.3 227.2 430.3 227.3 430.4 227.4 430.5 227.5 430.6 227.6 430.7 227.6 430.7 227.7 430.8 227.7 430.9 227.8 431.0 227.9 431.1 227.9 431.1 228.0 431.2 228.0 431.3 228.1 431.4 228.1 431.5 228.1 431.5 228.2 431.6 228.2 431.7 228.3 431.8 228.3 431.9 228.3 431.9 228.4 432.0 228.4 432.1 228.4 432.2 228.5 432.3 228.5 432.3 228.5 432.4 228.6 432.5 228.6 432.6 228.6 432.7 228.7 432.7 228.7 432.8 228.7 432.9 228.7 433.0 228.8 433.1 228.8 433.1 228.8 433.2 228.9 433.3 228.9 433.4 228.9 433.5 229.0 433.5 229.0 433.6 229.0 433.7 229.0 433.8 229.1 433.9 229.1 433.9 229.1 434.0 229.2 434.1 229.2 434.2 229.2 434.3 229.3 434.3 229.3 434.4 229.3 434.5 226.1 434.5 222.9 434.6 210.0 434.6 220.0 434.7 224.2 434.7 225.5 434.8 226.0 434.9 226.3 435.0 226.5 435.1 226.8 435.1 227.0 435.2 227.1 435.3 227.3 435.4 227.4 435.5 227.5 435.5 227.6 435.6 227.8 435.7 227.9 435.8 228.0 435.9 228.1 435.9 228.2 436.0 228.3 436.1 228.4 436.2 228.4 436.3 228.5 436.3 228.6 436.4 228.7 436.5 228.7 436.6 228.8 436.7 228.9 436.7 228.9 436.8 229.0 436.9 229.1 437.0 229.1 437.1 229.1 437.1 229.2 437.2 229.2 437.3 229.3 437.4 229.3 437.5 229.3 437.5 229.4 437.6 229.4 437.7 229.4 437.8 229.5 437.9 229.5 437.9 229.5 438.0 229.5 438.1 229.5 438.2 229.6 438.3 229.6 438.3 229.6 438.4 229.6 438.5 229.6 438.6 229.6 438.7 229.6 438.7 229.6 438.8 229.6 438.9 229.6 439.0 229.6 439.1 229.6 439.1 229.6 439.2 229.6 439.3 229.6 439.4 229.6 439.5 229.6 439.5 229.5 439.6 229.5 439.7 229.5 439.8 229.5 439.9 229.5 439.9 229.5 440.0 229.5 440.1 229.5 440.2 229.6 440.3 226.5 440.3 223.5 440.3 211.3 440.4 220.5 440.4 224.5 440.5 225.7 440.6 226.1 440.7 226.3 440.7 226.5 440.8 226.6 440.9 226.7 441.0 226.8 441.1 226.9 441.1 227.0 441.2 227.1 441.3 227.2 441.4 227.3 441.5 227.3 441.5 227.4 441.6 227.5 441.7 227.6 441.8 227.6 441.9 227.7 441.9 227.8 442.0 227.8 442.1 227.9 442.2 227.9 442.3 228.0 442.3 228.0 442.4 228.1 442.5 228.1 442.6 228.2 442.7 228.2 442.7 228.3 442.8 228.3 442.9 228.4 443.0 228.4 443.1 228.5 443.1 228.5 443.2 228.6 443.3 228.6 443.3 228.6 443.4 233.0 443.5 228.7 443.5 228.7 443.5 228.7 443.6 228.8 443.7 228.8 443.8 228.8 443.9 228.9 443.9 228.9 444.0 229.0 444.1 229.0 444.2 229.0 444.3 229.1 444.3 229.1 444.4 229.1 444.5 229.2 444.6 229.2 444.7 229.3 444.7 229.3 444.8 229.3 444.9 229.4 445.0 229.4 445.1 229.4 445.1 229.5 445.2 229.5 445.3 229.5 445.4 229.6 445.5 226.8 445.5 224.1 445.5 213.2 445.6 221.3 445.6 224.8 445.7 225.9 445.8 226.3 445.9 226.5 445.9 226.9 446.0 227.0 446.1 227.2 446.2 227.3 446.3 227.5 446.3 227.6 446.4 227.7 446.5 227.8 446.6 227.9 446.7 228.0 446.7 228.1 446.8 228.2 446.9 228.3 447.0 228.4 447.1 228.5 447.1 228.6 447.2 228.6 447.3 228.7 447.4 228.8 447.5 228.8 447.5 228.9 447.6 228.9 447.7 229.0 447.8 229.0 447.9 229.1 447.9 229.1 448.0 229.1 448.1 229.2 448.2 229.2" stroke="#88492c" stroke-width="0.6" fill="none" stroke-linejoin="round"/>
<path d="M423.6 229.4 423.6 209.6" stroke="#c69278" stroke-width="0.9" fill="none" stroke-linejoin="round"/>
<path d="M440.3 229.6 440.3 211.3" stroke="#c69278" stroke-width="0.9" fill="none" stroke-linejoin="round"/>
</svg>
<rect x="532.60" y="241.10" width="49.20" height="29.70" fill="#fff" stroke="#a0a0a0" stroke-width="0.6"/>
<line x1="536.24" y1="270.80" x2="536.24" y2="269.80" stroke="#999" stroke-width="0.4" />
<line x1="536.24" y1="241.10" x2="536.24" y2="242.10" stroke="#999" stroke-width="0.4" />
<text x="536.24" y="276.50" font-size="4.75" fill="#2a2a2a" text-anchor="middle" font-weight="normal" >140</text>
<line x1="552.81" y1="270.80" x2="552.81" y2="269.80" stroke="#999" stroke-width="0.4" />
<line x1="552.81" y1="241.10" x2="552.81" y2="242.10" stroke="#999" stroke-width="0.4" />
<text x="552.81" y="276.50" font-size="4.75" fill="#2a2a2a" text-anchor="middle" font-weight="normal" >150</text>
<line x1="569.38" y1="270.80" x2="569.38" y2="269.80" stroke="#999" stroke-width="0.4" />
<line x1="569.38" y1="241.10" x2="569.38" y2="242.10" stroke="#999" stroke-width="0.4" />
<text x="569.38" y="276.50" font-size="4.75" fill="#2a2a2a" text-anchor="middle" font-weight="normal" >160</text>
<line x1="532.60" y1="241.43" x2="533.60" y2="241.43" stroke="#999" stroke-width="0.4" />
<line x1="581.80" y1="241.43" x2="580.80" y2="241.43" stroke="#999" stroke-width="0.4" />
<text x="530.40" y="243.08" font-size="4.75" fill="#2a2a2a" text-anchor="end" font-weight="normal" >4</text>
<line x1="532.60" y1="247.95" x2="533.60" y2="247.95" stroke="#999" stroke-width="0.4" />
<line x1="581.80" y1="247.95" x2="580.80" y2="247.95" stroke="#999" stroke-width="0.4" />
<text x="530.40" y="249.60" font-size="4.75" fill="#2a2a2a" text-anchor="end" font-weight="normal" >2</text>
<line x1="532.60" y1="254.48" x2="533.60" y2="254.48" stroke="#999" stroke-width="0.4" />
<line x1="581.80" y1="254.48" x2="580.80" y2="254.48" stroke="#999" stroke-width="0.4" />
<text x="530.40" y="256.13" font-size="4.75" fill="#2a2a2a" text-anchor="end" font-weight="normal" >0</text>
<line x1="532.60" y1="261.01" x2="533.60" y2="261.01" stroke="#999" stroke-width="0.4" />
<line x1="581.80" y1="261.01" x2="580.80" y2="261.01" stroke="#999" stroke-width="0.4" />
<text x="530.40" y="262.66" font-size="4.75" fill="#2a2a2a" text-anchor="end" font-weight="normal" >−2</text>
<line x1="532.60" y1="267.54" x2="533.60" y2="267.54" stroke="#999" stroke-width="0.4" />
<line x1="581.80" y1="267.54" x2="580.80" y2="267.54" stroke="#999" stroke-width="0.4" />
<text x="530.40" y="269.19" font-size="4.75" fill="#2a2a2a" text-anchor="end" font-weight="normal" >−4</text>
<svg x="532.60" y="241.10" width="49.20" height="29.70" viewBox="532.60 241.10 49.20 29.70" overflow="hidden">
<path d="M531.3 259.7 531.4 259.7 531.4 259.7 531.5 259.7 531.6 259.7 531.7 259.7 531.8 259.7 531.9 259.7 531.9 259.7 532.0 259.7 532.1 259.7 532.2 259.7 532.3 259.7 532.4 259.7 532.4 259.7 532.5 259.7 532.6 259.7 532.7 259.7 532.8 259.7 532.8 259.7 532.9 259.7 533.0 259.7 533.1 259.7 533.2 259.7 533.3 259.7 533.3 259.7 533.4 259.7 533.5 259.7 533.6 259.7 533.7 259.7 533.8 259.7 533.8 259.7 533.9 259.7 534.0 259.7 534.1 259.7 534.2 259.7 534.3 259.7 534.3 259.7 534.4 259.7 534.5 259.7 534.6 259.7 534.7 259.7 534.8 259.7 534.8 259.7 534.9 259.7 535.0 259.7 535.1 259.7 535.2 259.7 535.3 259.7 535.3 259.7 535.4 259.7 535.5 259.7 535.6 259.7 535.7 259.7 535.7 259.7 535.8 259.7 535.9 259.7 536.0 259.7 536.1 259.7 536.2 259.7 536.2 259.7 536.3 259.7 536.4 259.7 536.5 257.5 536.5 255.2 536.6 246.3 536.6 255.5 536.7 255.8 536.7 256.7 536.8 257.1 536.9 257.2 537.0 257.4 537.1 257.5 537.2 257.6 537.2 257.7 537.3 257.8 537.4 257.8 537.5 257.9 537.6 258.0 537.7 258.1 537.7 258.1 537.8 258.2 537.9 258.3 538.0 258.3 538.1 258.4 538.1 258.5 538.2 258.5 538.3 258.6 538.4 258.6 538.5 258.7 538.6 258.7 538.6 258.8 538.7 258.8 538.8 258.8 538.9 258.9 539.0 258.9 539.1 259.0 539.1 259.0 539.2 259.0 539.3 259.0 539.4 259.1 539.5 259.1 539.6 259.1 539.6 259.2 539.7 259.2 539.8 259.2 539.9 259.2 540.0 259.2 540.1 259.3 540.1 259.3 540.2 259.3 540.3 259.3 540.4 259.3 540.5 259.4 540.6 259.4 540.6 259.4 540.7 259.4 540.8 259.4 540.9 259.4 541.0 259.4 541.0 259.5 541.1 259.5 541.2 259.5 541.3 259.5 541.4 259.5 541.5 259.5 541.5 259.5 541.6 259.5 541.7 259.5 541.8 257.4 541.8 255.3 541.9 247.0 541.9 253.1 542.0 255.8 542.0 256.6 542.1 256.9 542.2 257.1 542.3 257.2 542.4 257.5 542.5 257.6 542.5 257.7 542.6 257.8 542.7 257.8 542.8 257.9 542.9 258.0 543.0 258.1 543.0 258.1 543.1 258.2 543.2 258.3 543.3 258.3 543.4 258.4 543.5 258.5 543.5 258.5 543.6 258.6 543.7 258.6 543.8 258.7 543.9 258.7 543.9 258.8 544.0 258.8 544.1 258.8 544.2 258.9 544.3 258.9 544.4 259.0 544.4 259.0 544.5 259.0 544.6 259.0 544.7 259.1 544.8 259.1 544.9 259.1 544.9 259.2 545.0 259.2 545.1 259.2 545.2 259.2 545.3 259.2 545.4 259.3 545.4 259.3 545.5 259.3 545.6 259.3 545.7 259.3 545.8 259.4 545.9 259.4 545.9 259.4 546.0 259.4 546.1 259.4 546.2 259.4 546.3 259.4 546.3 259.5 546.4 259.5 546.5 259.5 546.6 259.5 546.7 259.5 546.8 259.5 546.8 259.5 546.9 259.5 547.0 259.5 547.1 259.5 547.2 259.5 547.3 259.6 547.3 259.6 547.4 257.8 547.4 256.1 547.5 249.1 547.6 253.9 547.6 256.0 547.7 256.8 547.8 257.1 547.8 257.2 547.9 257.4 548.0 257.5 548.1 257.6 548.2 257.7 548.3 257.8 548.3 257.8 548.4 257.9 548.5 258.0 548.6 258.1 548.7 258.1 548.8 258.2 548.8 258.3 548.9 258.3 549.0 258.4 549.1 258.5 549.2 258.5 549.2 258.6 549.3 258.6 549.4 258.7 549.5 258.7 549.6 258.8 549.7 258.8 549.7 258.8 549.8 258.9 549.9 258.9 550.0 259.0 550.1 259.0 550.2 259.0 550.2 259.0 550.3 259.1 550.4 259.1 550.5 259.1 550.6 259.2 550.7 259.2 550.7 259.2 550.8 259.2 550.9 259.2 551.0 259.3 551.1 259.3 551.2 259.3 551.2 259.3 551.3 259.3 551.4 259.4 551.5 259.4 551.6 259.4 551.7 259.4 551.7 259.4 551.8 259.4 551.9 259.4 552.0 259.5 552.1 259.5 552.1 259.5 552.2 259.5 552.3 259.5 552.4 259.5 552.5 259.5 552.6 259.5 552.6 259.5 552.7 259.5 552.8 259.5 552.9 259.6 553.0 259.6 553.1 257.4 553.1 255.2 553.1 246.5 553.2 255.4 553.2 255.7 553.3 256.7 553.4 257.1 553.5 257.2 553.6 257.4 553.6 257.5 553.7 257.6 553.8 257.7 553.9 257.8 554.0 257.8 554.1 257.9 554.1 258.0 554.2 258.1 554.3 258.1 554.4 258.2 554.5 258.3 554.5 258.3 554.6 258.4 554.7 258.5 554.8 258.5 554.9 258.6 555.0 258.6 555.0 258.7 555.1 258.7 555.2 258.8 555.3 258.8 555.4 258.8 555.5 258.9 555.5 258.9 555.6 259.0 555.7 259.0 555.8 259.0 555.9 259.0 556.0 259.1 556.0 259.1 556.1 259.1 556.2 259.2 556.3 259.2 556.4 259.2 556.5 259.2 556.5 259.2 556.6 259.3 556.7 259.3 556.8 259.3 556.9 259.3 557.0 259.3 557.0 259.4 557.1 259.4 557.2 259.4 557.3 259.4 557.4 259.4 557.4 259.4 557.5 259.4 557.6 259.5 557.7 259.5 557.8 259.5 557.9 259.5 557.9 259.5 558.0 259.5 558.1 259.5 558.2 259.5 558.3 259.5 558.4 257.0 558.4 254.4 558.4 244.0 558.5 252.1 558.5 255.5 558.6 256.5 558.7 256.9 558.8 257.1 558.9 257.2 558.9 257.5 559.0 257.6 559.1 257.7 559.2 257.8 559.3 257.8 559.4 257.9 559.4 258.0 559.5 258.1 559.6 258.1 559.7 258.2 559.8 258.3 559.9 258.3 559.9 258.4 560.0 258.5 560.1 258.5 560.2 258.6 560.3 258.6 560.3 258.7 560.4 258.7 560.5 258.8 560.6 258.8 560.7 258.8 560.8 258.9 560.8 258.9 560.9 259.0 561.0 259.0 561.1 259.0 561.2 259.0 561.3 259.1 561.3 259.1 561.4 259.1 561.5 259.2 561.6 259.2 561.7 259.2 561.8 259.2 561.8 259.2 561.9 259.3 562.0 259.3 562.1 259.3 562.2 259.3 562.3 259.3 562.3 259.4 562.3 259.4 562.4 267.5 562.5 259.4 562.5 259.4 562.6 259.4 562.7 259.4 562.7 259.4 562.8 259.4 562.9 259.5 563.0 259.5 563.1 259.5 563.2 259.5 563.2 259.5 563.3 259.5 563.4 259.5 563.5 259.5 563.6 259.5 563.7 257.4 563.7 255.2 563.7 246.5 563.8 253.0 563.8 255.7 563.9 256.6 564.0 256.9 564.1 257.1 564.2 257.2 564.2 257.5 564.3 257.6 564.4 257.7 564.5 257.8 564.6 257.8 564.7 257.9 564.7 258.0 564.8 258.1 564.9 258.1 565.0 258.2 565.1 258.3 565.2 258.3 565.2 258.4 565.3 258.5 565.4 258.5 565.5 258.6 565.6 258.6 565.6 258.7 565.7 258.7 565.8 258.8 565.9 258.8 566.0 258.8 566.1 258.9 566.1 258.9 566.2 259.0 566.3 259.0 566.4 259.0 566.5 259.0 566.6 259.1 566.6 259.1 566.7 259.1 566.8 259.2 566.9 259.2 567.0 259.2 567.1 259.2 567.1 259.2 567.2 259.3 567.3 259.3 567.4 259.3 567.5 259.3 567.6 259.3 567.6 259.4 567.7 259.4 567.8 259.4 567.9 259.4 568.0 259.4 568.1 259.4 568.1 259.4 568.2 259.5 568.3 259.5 568.4 259.5 568.5 259.5 568.5 259.5 568.6 259.5 568.7 259.5 568.8 257.2 568.8 254.8 568.9 245.3 568.9 255.2 569.0 255.6 569.0 256.5 569.1 256.9 569.2 257.1 569.3 257.2 569.4 257.3 569.5 257.4 569.5 257.7 569.6 257.8 569.7 257.8 569.8 257.9 569.9 258.0 570.0 258.1 570.0 258.1 570.1 258.2 570.2 258.3 570.3 258.3 570.4 258.4 570.5 258.5 570.5 258.5 570.6 258.6 570.7 258.6 570.8 258.7 570.9 258.7 570.9 258.8 571.0 258.8 571.1 258.8 571.2 258.9 571.3 258.9 571.4 259.0 571.4 259.0 571.5 259.0 571.6 259.0 571.7 259.1 571.8 259.1 571.9 259.1 571.9 259.2 572.0 259.2 572.1 259.2 572.2 259.2 572.3 259.2 572.4 259.3 572.4 259.3 572.5 259.3 572.6 259.3 572.7 259.3 572.8 259.4 572.9 259.4 572.9 259.4 573.0 259.4 573.1 259.4 573.2 259.4 573.3 259.4 573.4 259.5 573.4 259.5 573.5 259.5 573.6 259.5 573.7 259.5 573.8 259.5 573.8 259.5 573.9 259.5 574.0 259.5 574.1 257.3 574.1 255.0 574.2 245.8 574.2 252.7 574.3 255.7 574.3 256.6 574.4 256.9 574.5 257.1 574.6 257.2 574.7 257.5 574.8 257.6 574.8 257.7 574.9 257.8 575.0 257.8 575.1 257.9 575.2 258.0 575.3 258.1 575.3 258.1 575.4 258.2 575.5 258.3 575.6 258.3 575.7 258.4 575.8 258.5 575.8 258.5 575.9 258.6 576.0 258.6 576.1 258.7 576.2 258.7 576.3 258.8 576.3 258.8 576.4 258.8 576.5 258.9 576.6 258.9 576.7 259.0 576.7 259.0 576.8 259.0 576.9 259.0 577.0 259.1 577.1 259.1 577.2 259.1 577.2 259.2 577.3 259.2 577.4 259.2 577.5 259.2 577.6 259.2 577.7 259.3 577.7 259.3 577.8 259.3 577.9 259.3 578.0 259.3 578.1 259.4 578.2 259.4 578.2 259.4 578.3 259.4 578.4 259.4 578.5 259.4 578.6 259.4 578.7 259.5 578.7 259.5 578.8 259.5 578.9 259.5 579.0 259.5 579.1 259.5 579.1 259.5 579.2 259.5 579.3 259.5 579.4 259.5 579.5 259.5 579.6 259.6 579.6 259.6 579.7 257.5 579.7 255.4 579.8 247.0 579.9 253.2 579.9 255.8 580.0 256.7 580.1 257.1 580.1 257.2 580.2 257.4 580.3 257.5 580.4 257.6 580.5 257.7 580.6 257.8 580.6 257.8 580.7 257.9 580.8 258.0 580.9 258.1 581.0 258.1 581.1 258.2 581.1 258.3 581.2 258.3 581.3 258.4 581.4 258.5 581.4 258.5 581.5 264.3 581.6 258.6 581.6 258.6 581.6 258.6 581.7 258.7 581.8 258.7 581.9 258.8 582.0 258.8 582.0 258.8 582.1 258.9 582.2 258.9 582.3 259.0 582.4 259.0 582.5 259.0 582.5 259.0 582.6 259.1 582.7 259.1 582.8 259.1 582.9 259.2 583.0 259.2 583.0 259.2 583.1 259.2 583.2 259.2 583.3 259.3 583.4 259.3 583.5 259.3" stroke="#88492c" stroke-width="0.6" fill="none" stroke-linejoin="round"/>
</svg>
<rect x="592.20" y="241.20" width="48.60" height="29.00" fill="#fff" stroke="#a0a0a0" stroke-width="0.6"/>
<line x1="596.58" y1="270.20" x2="596.58" y2="269.20" stroke="#999" stroke-width="0.4" />
<line x1="596.58" y1="241.20" x2="596.58" y2="242.20" stroke="#999" stroke-width="0.4" />
<text x="596.58" y="275.90" font-size="4.75" fill="#2a2a2a" text-anchor="middle" font-weight="normal" >140</text>
<line x1="612.57" y1="270.20" x2="612.57" y2="269.20" stroke="#999" stroke-width="0.4" />
<line x1="612.57" y1="241.20" x2="612.57" y2="242.20" stroke="#999" stroke-width="0.4" />
<text x="612.57" y="275.90" font-size="4.75" fill="#2a2a2a" text-anchor="middle" font-weight="normal" >150</text>
<line x1="628.55" y1="270.20" x2="628.55" y2="269.20" stroke="#999" stroke-width="0.4" />
<line x1="628.55" y1="241.20" x2="628.55" y2="242.20" stroke="#999" stroke-width="0.4" />
<text x="628.55" y="275.90" font-size="4.75" fill="#2a2a2a" text-anchor="middle" font-weight="normal" >160</text>
<line x1="592.20" y1="241.86" x2="593.20" y2="241.86" stroke="#999" stroke-width="0.4" />
<line x1="640.80" y1="241.86" x2="639.80" y2="241.86" stroke="#999" stroke-width="0.4" />
<text x="590.00" y="243.51" font-size="4.75" fill="#2a2a2a" text-anchor="end" font-weight="normal" >4</text>
<line x1="592.20" y1="250.10" x2="593.20" y2="250.10" stroke="#999" stroke-width="0.4" />
<line x1="640.80" y1="250.10" x2="639.80" y2="250.10" stroke="#999" stroke-width="0.4" />
<text x="590.00" y="251.75" font-size="4.75" fill="#2a2a2a" text-anchor="end" font-weight="normal" >2</text>
<line x1="592.20" y1="258.35" x2="593.20" y2="258.35" stroke="#999" stroke-width="0.4" />
<line x1="640.80" y1="258.35" x2="639.80" y2="258.35" stroke="#999" stroke-width="0.4" />
<text x="590.00" y="260.00" font-size="4.75" fill="#2a2a2a" text-anchor="end" font-weight="normal" >0</text>
<line x1="592.20" y1="266.59" x2="593.20" y2="266.59" stroke="#999" stroke-width="0.4" />
<line x1="640.80" y1="266.59" x2="639.80" y2="266.59" stroke="#999" stroke-width="0.4" />
<text x="590.00" y="268.24" font-size="4.75" fill="#2a2a2a" text-anchor="end" font-weight="normal" >−2</text>
<svg x="592.20" y="241.20" width="48.60" height="29.00" viewBox="592.20 241.20 48.60 29.00" overflow="hidden">
<path d="M591.8 271.3 591.9 271.2 591.9 271.1 592.0 271.0 592.1 270.9 592.2 270.8 592.3 270.7 592.3 270.6 592.4 270.5 592.5 270.4 592.6 270.3 592.7 270.2 592.7 270.1 592.8 270.0 592.9 269.9 593.0 269.8 593.1 269.7 593.1 269.6 593.2 269.5 593.3 269.4 593.4 269.3 593.5 269.2 593.5 269.1 593.6 269.0 593.7 268.9 593.8 268.8 593.9 268.7 593.9 268.6 594.0 268.5 594.1 268.4 594.2 268.3 594.3 268.2 594.3 268.1 594.4 268.0 594.5 267.9 594.6 267.8 594.7 267.7 594.7 267.6 594.8 267.5 594.9 267.4 595.0 267.3 595.1 267.2 595.1 267.1 595.2 267.1 595.3 267.0 595.4 266.9 595.5 266.8 595.5 266.7 595.6 266.6 595.7 266.5 595.8 266.4 595.9 266.3 595.9 266.2 596.0 266.1 596.1 266.0 596.2 265.9 596.3 260.1 596.3 248.9 596.3 251.8 596.4 257.3 596.4 261.2 596.5 262.1 596.6 262.5 596.7 262.7 596.7 262.8 596.8 263.0 596.9 263.1 597.0 263.2 597.1 263.3 597.1 263.4 597.2 263.5 597.3 263.6 597.4 263.7 597.5 263.8 597.5 263.9 597.6 264.0 597.7 264.1 597.8 264.1 597.9 264.2 597.9 264.3 598.0 264.4 598.1 264.4 598.2 264.5 598.3 264.5 598.3 264.6 598.4 264.6 598.5 264.7 598.6 264.7 598.7 264.8 598.7 264.8 598.8 264.9 598.9 264.9 599.0 264.9 599.1 265.0 599.1 265.0 599.2 265.1 599.3 265.1 599.4 265.1 599.5 265.1 599.5 265.2 599.6 265.2 599.7 265.2 599.8 265.2 599.9 265.3 599.9 265.3 600.0 265.3 600.1 265.3 600.2 265.4 600.3 265.4 600.3 265.4 600.4 265.4 600.5 265.4 600.6 265.4 600.7 265.5 600.7 265.5 600.8 265.5 600.9 265.5 601.0 265.5 601.1 265.5 601.1 265.5 601.2 265.5 601.3 265.5 601.4 265.6 601.4 259.7 601.5 250.8 601.5 247.8 601.5 256.8 601.6 261.6 601.7 262.2 601.8 262.4 601.9 262.6 601.9 262.9 602.0 263.0 602.1 263.2 602.2 263.3 602.3 263.4 602.3 263.5 602.4 263.6 602.5 263.7 602.6 263.8 602.7 263.9 602.7 264.0 602.8 264.0 602.9 264.1 603.0 264.2 603.1 264.3 603.1 264.3 603.2 264.4 603.3 264.5 603.4 264.5 603.5 264.6 603.5 264.6 603.6 264.7 603.7 264.7 603.8 264.8 603.9 264.8 603.9 264.9 604.0 264.9 604.1 264.9 604.2 265.0 604.3 265.0 604.3 265.0 604.4 265.1 604.5 265.1 604.6 265.1 604.7 265.2 604.7 265.2 604.8 265.2 604.9 265.2 605.0 265.3 605.1 265.3 605.1 265.3 605.2 265.3 605.3 265.3 605.4 265.4 605.5 265.4 605.5 265.4 605.6 265.4 605.7 265.4 605.8 265.4 605.9 265.5 605.9 265.5 606.0 265.5 606.1 265.5 606.2 265.5 606.3 265.5 606.3 265.5 606.4 265.5 606.5 265.6 606.6 265.6 606.7 265.6 606.7 265.6 606.8 263.3 606.8 261.0 606.9 251.8 607.0 260.7 607.0 261.0 607.1 261.9 607.1 262.4 607.2 262.7 607.3 262.8 607.4 262.9 607.5 263.1 607.5 263.2 607.6 263.3 607.7 263.4 607.8 263.5 607.9 263.6 607.9 263.7 608.0 263.8 608.1 263.9 608.2 264.0 608.3 264.1 608.3 264.1 608.4 264.2 608.5 264.3 608.6 264.3 608.6 264.4 608.7 264.4 608.7 268.7 608.8 264.5 608.8 264.5 608.9 264.6 609.0 264.6 609.1 264.7 609.1 264.7 609.2 264.8 609.3 264.8 609.4 264.9 609.4 264.9 609.5 264.9 609.6 265.0 609.7 265.0 609.8 265.0 609.8 265.1 609.9 265.1 610.0 265.1 610.1 265.2 610.2 265.2 610.2 265.2 610.3 265.2 610.4 265.3 610.5 265.3 610.6 265.3 610.6 265.3 610.7 265.3 610.8 265.4 610.9 265.4 611.0 265.4 611.0 265.4 611.1 265.4 611.2 265.4 611.3 265.5 611.4 265.5 611.4 265.5 611.5 265.5 611.6 265.5 611.7 265.5 611.8 265.5 611.8 265.5 611.9 265.6 612.0 265.6 612.1 265.6 612.2 265.6 612.2 265.6 612.3 265.6 612.4 260.0 612.4 254.3 612.4 248.7 612.5 255.9 612.5 260.5 612.6 261.7 612.6 262.3 612.7 262.6 612.8 262.7 612.9 262.9 613.0 263.0 613.0 263.1 613.1 263.3 613.2 263.4 613.3 263.5 613.4 263.6 613.4 263.7 613.5 263.8 613.6 263.9 613.7 263.9 613.8 264.0 613.8 264.1 613.9 264.2 614.0 264.2 614.1 264.3 614.2 264.4 614.2 264.4 614.3 264.5 614.4 264.6 614.5 264.6 614.6 264.7 614.6 264.7 614.7 264.8 614.8 264.8 614.9 264.8 615.0 264.9 615.0 264.9 615.1 265.0 615.2 265.0 615.3 265.0 615.4 265.1 615.4 265.1 615.5 265.1 615.6 265.2 615.7 265.2 615.8 265.2 615.8 265.2 615.9 265.3 616.0 265.3 616.1 265.3 616.2 265.3 616.2 265.3 616.3 265.4 616.4 265.4 616.5 265.4 616.6 265.4 616.6 265.4 616.7 265.4 616.8 265.5 616.9 265.5 617.0 265.5 617.0 265.5 617.1 265.5 617.2 265.5 617.3 265.5 617.4 265.5 617.4 265.6 617.5 262.2 617.5 258.8 617.6 245.4 617.7 255.9 617.7 260.4 617.8 261.7 617.8 262.2 617.9 262.5 618.0 262.6 618.1 262.9 618.2 263.1 618.2 263.2 618.3 263.3 618.4 263.4 618.5 263.5 618.6 263.6 618.6 263.7 618.7 263.8 618.8 263.9 618.9 264.0 619.0 264.1 619.0 264.1 619.1 264.2 619.2 264.3 619.3 264.3 619.4 264.4 619.4 264.5 619.5 264.5 619.6 264.6 619.7 264.6 619.8 264.7 619.8 264.7 619.9 264.8 620.0 264.8 620.1 264.9 620.2 264.9 620.2 264.9 620.3 265.0 620.4 265.0 620.5 265.0 620.6 265.1 620.6 265.1 620.7 265.1 620.8 265.2 620.9 265.2 621.0 265.2 621.0 265.2 621.1 265.3 621.2 265.3 621.3 265.3 621.4 265.3 621.4 265.3 621.5 265.4 621.6 265.4 621.7 265.4 621.8 265.4 621.8 265.4 621.9 265.4 622.0 265.5 622.1 265.5 622.2 265.5 622.2 265.5 622.3 265.5 622.4 265.5 622.5 265.5 622.6 265.5 622.6 265.6 622.7 265.6 622.8 265.6 622.9 265.6 623.0 265.6 623.0 265.6 623.1 259.8 623.1 251.0 623.1 248.1 623.2 257.1 623.3 261.8 623.4 262.4 623.4 262.6 623.5 262.8 623.6 262.9 623.7 263.0 623.8 263.2 623.8 263.3 623.9 263.4 624.0 263.5 624.1 263.6 624.2 263.7 624.2 263.8 624.3 263.9 624.4 264.0 624.5 264.0 624.6 264.1 624.6 264.2 624.7 264.3 624.8 264.3 624.9 264.4 625.0 264.5 625.0 264.5 625.1 264.6 625.2 264.6 625.3 264.7 625.4 264.7 625.4 264.8 625.5 264.8 625.6 264.9 625.7 264.9 625.8 264.9 625.8 265.0 625.9 265.0 626.0 265.0 626.1 265.1 626.2 265.1 626.2 265.1 626.3 265.2 626.4 265.2 626.5 265.2 626.6 265.2 626.6 265.3 626.7 265.3 626.8 265.3 626.9 265.3 627.0 265.3 627.0 265.4 627.1 265.4 627.2 265.4 627.3 265.4 627.4 265.4 627.4 265.4 627.5 265.5 627.6 265.5 627.7 265.5 627.8 265.5 627.8 265.5 627.9 265.5 628.0 265.5 628.1 265.5 628.2 265.6 628.2 265.6 628.3 265.6 628.4 265.6 628.5 262.3 628.5 259.1 628.6 246.0 628.6 256.1 628.6 260.5 628.7 261.8 628.8 262.4 628.9 262.6 629.0 262.8 629.0 262.9 629.1 263.1 629.2 263.2 629.3 263.3 629.4 263.4 629.4 263.5 629.5 263.6 629.6 263.7 629.7 263.8 629.8 263.9 629.8 264.0 629.9 264.1 630.0 264.1 630.1 264.2 630.2 264.3 630.2 264.3 630.3 264.4 630.4 264.5 630.5 264.5 630.6 264.6 630.6 264.6 630.7 264.7 630.8 264.7 630.9 264.8 631.0 264.8 631.0 264.9 631.1 264.9 631.2 264.9 631.3 265.0 631.4 265.0 631.4 265.0 631.5 265.1 631.6 265.1 631.7 265.1 631.8 265.2 631.8 265.2 631.9 265.2 632.0 265.2 632.1 265.3 632.2 265.3 632.2 265.3 632.3 265.3 632.4 265.3 632.5 265.4 632.6 265.4 632.6 265.4 632.7 265.4 632.8 265.4 632.9 265.4 633.0 265.5 633.0 265.5 633.1 265.5 633.2 265.5 633.3 265.5 633.4 265.5 633.4 265.5 633.5 265.5 633.6 262.6 633.6 259.7 633.7 248.0 633.7 260.2 633.7 260.6 633.8 261.8 633.9 262.2 634.0 262.5 634.1 262.6 634.1 262.9 634.2 263.1 634.3 263.2 634.4 263.3 634.5 263.4 634.5 263.5 634.6 263.6 634.7 263.7 634.8 263.8 634.9 263.9 634.9 264.0 635.0 264.1 635.1 264.1 635.2 264.2 635.3 264.3 635.3 264.3 635.4 264.4 635.5 264.5 635.6 264.5 635.7 264.6 635.7 264.6 635.8 264.7 635.9 264.7 636.0 264.8 636.1 264.8 636.1 264.9 636.2 264.9 636.3 264.9 636.4 265.0 636.5 265.0 636.5 265.0 636.6 265.1 636.7 265.1 636.8 265.1 636.9 265.2 636.9 265.2 637.0 265.2 637.1 265.2 637.2 265.3 637.3 265.3 637.3 265.3 637.4 265.3 637.5 265.3 637.6 265.4 637.7 265.4 637.7 265.4 637.8 265.4 637.9 265.4 638.0 265.4 638.1 265.5 638.1 265.5 638.2 265.5 638.3 265.5 638.4 265.5 638.5 265.5 638.5 265.5 638.6 265.5 638.7 265.6 638.8 265.6 638.9 265.6 638.9 265.6 639.0 262.9 639.0 260.2 639.1 249.5 639.2 257.4 639.2 260.8 639.3 262.0 639.3 262.4 639.4 262.6 639.5 262.8 639.6 262.9 639.7 263.1 639.7 263.2 639.8 263.3 639.9 263.4 640.0 263.5 640.1 263.6 640.1 263.7 640.2 263.8 640.3 263.9 640.4 264.0 640.5 264.1 640.5 264.1 640.6 264.2 640.7 264.3 640.8 264.3 640.9 264.4 640.9 264.5 641.0 264.5 641.1 264.6 641.2 264.6 641.3 264.7 641.3 264.7 641.4 264.8 641.5 264.8 641.6 264.9 641.7 264.9 641.7 264.9 641.8 265.0 641.9 265.0 642.0 265.0 642.1 265.1 642.1 265.1" stroke="#88492c" stroke-width="0.6" fill="none" stroke-linejoin="round"/>
<path d="M606.9 265.8 606.9 252.0" stroke="#c69278" stroke-width="0.9" fill="none" stroke-linejoin="round"/>
<path d="M623.1 265.8 623.1 248.2" stroke="#c69278" stroke-width="0.9" fill="none" stroke-linejoin="round"/>
<path d="M639.1 265.8 639.1 249.7" stroke="#c69278" stroke-width="0.9" fill="none" stroke-linejoin="round"/>
</svg>
<line x1="419.50" y1="244.20" x2="419.50" y2="268.90" stroke="#8a553d" stroke-width="0.85" />
<line x1="600.50" y1="190.30" x2="563.40" y2="220.50" stroke="#8a553d" stroke-width="0.85" />
<line x1="634.90" y1="201.40" x2="618.80" y2="221.50" stroke="#8a553d" stroke-width="0.85" />
<circle cx="396.40" cy="282.60" r="1.55" fill="#3b58a8"/>
<circle cx="396.40" cy="282.60" r="1.55" fill="#e63462"/>
<circle cx="407.84" cy="279.40" r="1.55" fill="#3b58a8"/>
<circle cx="407.84" cy="277.70" r="1.55" fill="#e63462"/>
<circle cx="419.28" cy="274.20" r="1.55" fill="#3b58a8"/>
<circle cx="419.28" cy="272.70" r="1.55" fill="#e63462"/>
<circle cx="430.72" cy="267.50" r="1.55" fill="#3b58a8"/>
<circle cx="430.72" cy="267.50" r="1.55" fill="#e63462"/>
<circle cx="442.16" cy="260.90" r="1.55" fill="#3b58a8"/>
<circle cx="442.16" cy="262.20" r="1.55" fill="#e63462"/>
<circle cx="453.60" cy="253.90" r="1.55" fill="#3b58a8"/>
<circle cx="453.60" cy="256.50" r="1.55" fill="#e63462"/>
<circle cx="465.04" cy="247.00" r="1.55" fill="#3b58a8"/>
<circle cx="465.04" cy="250.80" r="1.55" fill="#e63462"/>
<circle cx="476.48" cy="240.00" r="1.55" fill="#3b58a8"/>
<circle cx="476.48" cy="244.60" r="1.55" fill="#e63462"/>
<circle cx="487.92" cy="233.30" r="1.55" fill="#3b58a8"/>
<circle cx="487.92" cy="238.50" r="1.55" fill="#e63462"/>
<circle cx="499.36" cy="226.70" r="1.55" fill="#3b58a8"/>
<circle cx="499.36" cy="231.60" r="1.55" fill="#e63462"/>
<circle cx="510.80" cy="220.40" r="1.55" fill="#3b58a8"/>
<circle cx="510.80" cy="224.70" r="1.55" fill="#e63462"/>
<circle cx="522.24" cy="214.30" r="1.55" fill="#3b58a8"/>
<circle cx="522.24" cy="217.90" r="1.55" fill="#e63462"/>
<circle cx="533.68" cy="208.50" r="1.55" fill="#3b58a8"/>
<circle cx="533.68" cy="210.40" r="1.55" fill="#e63462"/>
<circle cx="545.12" cy="203.40" r="1.55" fill="#3b58a8"/>
<circle cx="545.12" cy="203.40" r="1.55" fill="#e63462"/>
<circle cx="556.56" cy="198.60" r="1.55" fill="#3b58a8"/>
<circle cx="556.56" cy="197.80" r="1.55" fill="#e63462"/>
<circle cx="568.00" cy="194.70" r="1.55" fill="#3b58a8"/>
<circle cx="568.00" cy="193.40" r="1.55" fill="#e63462"/>
<circle cx="579.44" cy="191.40" r="1.55" fill="#3b58a8"/>
<circle cx="579.44" cy="190.10" r="1.55" fill="#e63462"/>
<circle cx="590.88" cy="189.00" r="1.55" fill="#3b58a8"/>
<circle cx="590.88" cy="187.40" r="1.55" fill="#e63462"/>
<circle cx="602.32" cy="187.60" r="1.55" fill="#3b58a8"/>
<circle cx="602.32" cy="185.30" r="1.55" fill="#e63462"/>
<circle cx="613.76" cy="188.00" r="1.55" fill="#3b58a8"/>
<circle cx="613.76" cy="188.00" r="1.55" fill="#e63462"/>
<circle cx="625.20" cy="190.70" r="1.55" fill="#3b58a8"/>
<circle cx="625.20" cy="192.10" r="1.55" fill="#e63462"/>
<circle cx="636.64" cy="196.50" r="1.55" fill="#3b58a8"/>
<circle cx="636.64" cy="198.30" r="1.55" fill="#e63462"/>
<text x="407.20" y="195.00" font-size="4.75" fill="#e63462"><tspan font-style="italic">A</tspan><tspan font-size="3.6" dy="1.0">z</tspan><tspan dy="-1.0">: 1082.49 nm</tspan></text>
<text x="407.20" y="203.00" font-size="4.75" fill="#3b58a8"><tspan font-style="italic">γ</tspan><tspan font-size="3.6" dy="1.2">ex</tspan><tspan dy="-1.2">: 3073.85 Hz</tspan></text>
<text x="543.20" y="229.40" font-size="4.75" fill="#e63462"><tspan font-style="italic">A</tspan><tspan font-size="3.6" dy="1.0">z</tspan><tspan dy="-1.0">: 1136.5 nm</tspan></text>
<text x="543.20" y="237.40" font-size="4.75" fill="#3b58a8"><tspan font-style="italic">γ</tspan><tspan font-size="3.6" dy="1.2">ex</tspan><tspan dy="-1.2">: 3216.62 Hz</tspan></text>
<text x="600.80" y="228.80" font-size="4.75" fill="#e63462"><tspan font-style="italic">A</tspan><tspan font-size="3.6" dy="1.0">z</tspan><tspan dy="-1.0">: 1129.54 nm</tspan></text>
<text x="600.80" y="236.80" font-size="4.75" fill="#3b58a8"><tspan font-style="italic">γ</tspan><tspan font-size="3.6" dy="1.2">ex</tspan><tspan dy="-1.2">: 3102.77 Hz</tspan></text>
</svg></body></html>
